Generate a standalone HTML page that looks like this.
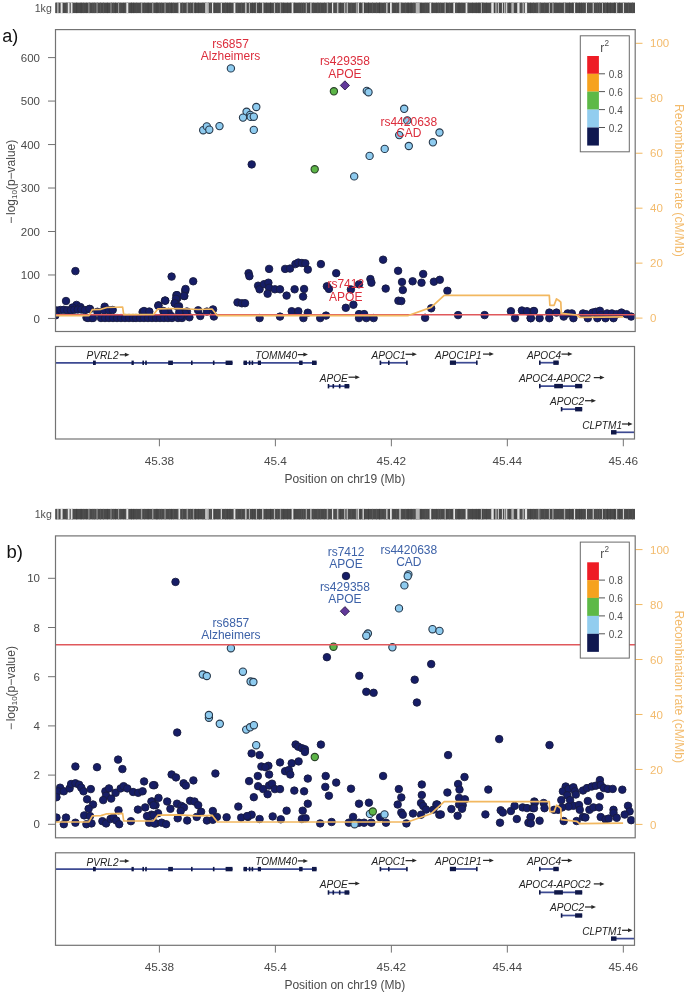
<!DOCTYPE html>
<html><head><meta charset="utf-8"><style>
html,body{margin:0;padding:0;background:#fff;}
svg{display:block;filter:blur(0.5px);}
text{font-family:"Liberation Sans", sans-serif;}
</style></head><body>
<svg width="685" height="993" viewBox="0 0 685 993" font-family='"Liberation Sans", sans-serif'>
<rect width="685" height="993" fill="#fff"/>
<rect x="55.2" y="2.6" width="579.8" height="10.5" fill="#4a4a4a"/>
<rect x="56" y="2.6" width="0.6" height="10.5" fill="#585858"/>
<rect x="58.68" y="2.6" width="0.5" height="10.5" fill="#525252"/>
<rect x="62.65" y="2.6" width="0.5" height="10.5" fill="#424242"/>
<rect x="65.9" y="2.6" width="0.8" height="10.5" fill="#585858"/>
<rect x="67.51" y="2.6" width="0.6" height="10.5" fill="#5c5c5c"/>
<rect x="69.22" y="2.6" width="0.5" height="10.5" fill="#3e3e3e"/>
<rect x="71.99" y="2.6" width="0.8" height="10.5" fill="#525252"/>
<rect x="76.33" y="2.6" width="0.8" height="10.5" fill="#3e3e3e"/>
<rect x="80.68" y="2.6" width="0.8" height="10.5" fill="#3e3e3e"/>
<rect x="83.37" y="2.6" width="0.5" height="10.5" fill="#525252"/>
<rect x="86.54" y="2.6" width="0.5" height="10.5" fill="#424242"/>
<rect x="89.3" y="2.6" width="0.8" height="10.5" fill="#525252"/>
<rect x="92.51" y="2.6" width="0.8" height="10.5" fill="#585858"/>
<rect x="94.32" y="2.6" width="0.8" height="10.5" fill="#585858"/>
<rect x="96.93" y="2.6" width="0.8" height="10.5" fill="#525252"/>
<rect x="100.13" y="2.6" width="0.8" height="10.5" fill="#585858"/>
<rect x="103.12" y="2.6" width="0.8" height="10.5" fill="#5c5c5c"/>
<rect x="106.95" y="2.6" width="0.6" height="10.5" fill="#3e3e3e"/>
<rect x="111.22" y="2.6" width="0.6" height="10.5" fill="#424242"/>
<rect x="113.46" y="2.6" width="0.5" height="10.5" fill="#585858"/>
<rect x="115.21" y="2.6" width="0.6" height="10.5" fill="#3e3e3e"/>
<rect x="118.19" y="2.6" width="0.6" height="10.5" fill="#5c5c5c"/>
<rect x="120.56" y="2.6" width="0.5" height="10.5" fill="#525252"/>
<rect x="123.59" y="2.6" width="0.5" height="10.5" fill="#424242"/>
<rect x="125.55" y="2.6" width="0.6" height="10.5" fill="#5c5c5c"/>
<rect x="127.17" y="2.6" width="0.8" height="10.5" fill="#525252"/>
<rect x="130.96" y="2.6" width="0.8" height="10.5" fill="#424242"/>
<rect x="133.48" y="2.6" width="0.6" height="10.5" fill="#3e3e3e"/>
<rect x="136.47" y="2.6" width="0.6" height="10.5" fill="#525252"/>
<rect x="140.49" y="2.6" width="0.6" height="10.5" fill="#5c5c5c"/>
<rect x="144.08" y="2.6" width="0.5" height="10.5" fill="#525252"/>
<rect x="147.78" y="2.6" width="0.6" height="10.5" fill="#3e3e3e"/>
<rect x="152.26" y="2.6" width="0.6" height="10.5" fill="#424242"/>
<rect x="155.91" y="2.6" width="0.8" height="10.5" fill="#424242"/>
<rect x="157.47" y="2.6" width="0.6" height="10.5" fill="#424242"/>
<rect x="159.48" y="2.6" width="0.5" height="10.5" fill="#5c5c5c"/>
<rect x="161.15" y="2.6" width="0.6" height="10.5" fill="#585858"/>
<rect x="164.87" y="2.6" width="0.6" height="10.5" fill="#5c5c5c"/>
<rect x="169.12" y="2.6" width="0.6" height="10.5" fill="#525252"/>
<rect x="171.12" y="2.6" width="0.6" height="10.5" fill="#3e3e3e"/>
<rect x="173.45" y="2.6" width="0.5" height="10.5" fill="#5c5c5c"/>
<rect x="177.54" y="2.6" width="0.6" height="10.5" fill="#5c5c5c"/>
<rect x="182" y="2.6" width="0.8" height="10.5" fill="#5c5c5c"/>
<rect x="186.38" y="2.6" width="0.5" height="10.5" fill="#525252"/>
<rect x="188.41" y="2.6" width="0.5" height="10.5" fill="#585858"/>
<rect x="189.94" y="2.6" width="0.8" height="10.5" fill="#585858"/>
<rect x="192.23" y="2.6" width="0.5" height="10.5" fill="#585858"/>
<rect x="194.99" y="2.6" width="0.6" height="10.5" fill="#3e3e3e"/>
<rect x="198.19" y="2.6" width="0.5" height="10.5" fill="#3e3e3e"/>
<rect x="202.54" y="2.6" width="0.8" height="10.5" fill="#525252"/>
<rect x="205.41" y="2.6" width="0.8" height="10.5" fill="#3e3e3e"/>
<rect x="208.08" y="2.6" width="0.6" height="10.5" fill="#5c5c5c"/>
<rect x="209.89" y="2.6" width="0.8" height="10.5" fill="#5c5c5c"/>
<rect x="211.58" y="2.6" width="0.5" height="10.5" fill="#585858"/>
<rect x="214.4" y="2.6" width="0.5" height="10.5" fill="#424242"/>
<rect x="217.71" y="2.6" width="0.5" height="10.5" fill="#525252"/>
<rect x="220.91" y="2.6" width="0.8" height="10.5" fill="#525252"/>
<rect x="225.25" y="2.6" width="0.8" height="10.5" fill="#525252"/>
<rect x="226.96" y="2.6" width="0.5" height="10.5" fill="#3e3e3e"/>
<rect x="229.59" y="2.6" width="0.8" height="10.5" fill="#424242"/>
<rect x="233.96" y="2.6" width="0.8" height="10.5" fill="#424242"/>
<rect x="236.88" y="2.6" width="0.5" height="10.5" fill="#5c5c5c"/>
<rect x="241.36" y="2.6" width="0.6" height="10.5" fill="#5c5c5c"/>
<rect x="244.31" y="2.6" width="0.5" height="10.5" fill="#585858"/>
<rect x="246.12" y="2.6" width="0.6" height="10.5" fill="#424242"/>
<rect x="249.05" y="2.6" width="0.8" height="10.5" fill="#585858"/>
<rect x="252.1" y="2.6" width="0.5" height="10.5" fill="#3e3e3e"/>
<rect x="254.69" y="2.6" width="0.8" height="10.5" fill="#3e3e3e"/>
<rect x="258.93" y="2.6" width="0.8" height="10.5" fill="#424242"/>
<rect x="263.37" y="2.6" width="0.5" height="10.5" fill="#424242"/>
<rect x="266.42" y="2.6" width="0.5" height="10.5" fill="#424242"/>
<rect x="270.24" y="2.6" width="0.8" height="10.5" fill="#3e3e3e"/>
<rect x="274.07" y="2.6" width="0.6" height="10.5" fill="#585858"/>
<rect x="277.41" y="2.6" width="0.5" height="10.5" fill="#585858"/>
<rect x="281.37" y="2.6" width="0.8" height="10.5" fill="#585858"/>
<rect x="283.47" y="2.6" width="0.6" height="10.5" fill="#424242"/>
<rect x="287.16" y="2.6" width="0.5" height="10.5" fill="#424242"/>
<rect x="290.08" y="2.6" width="0.5" height="10.5" fill="#3e3e3e"/>
<rect x="294.45" y="2.6" width="0.6" height="10.5" fill="#424242"/>
<rect x="298.81" y="2.6" width="0.6" height="10.5" fill="#525252"/>
<rect x="300.97" y="2.6" width="0.5" height="10.5" fill="#5c5c5c"/>
<rect x="303.06" y="2.6" width="0.5" height="10.5" fill="#5c5c5c"/>
<rect x="306.44" y="2.6" width="0.8" height="10.5" fill="#525252"/>
<rect x="309.38" y="2.6" width="0.8" height="10.5" fill="#424242"/>
<rect x="313.27" y="2.6" width="0.5" height="10.5" fill="#525252"/>
<rect x="317.5" y="2.6" width="0.8" height="10.5" fill="#585858"/>
<rect x="320.44" y="2.6" width="0.5" height="10.5" fill="#5c5c5c"/>
<rect x="324.31" y="2.6" width="0.6" height="10.5" fill="#525252"/>
<rect x="328.21" y="2.6" width="0.8" height="10.5" fill="#5c5c5c"/>
<rect x="331.1" y="2.6" width="0.8" height="10.5" fill="#525252"/>
<rect x="334.77" y="2.6" width="0.5" height="10.5" fill="#585858"/>
<rect x="336.35" y="2.6" width="0.8" height="10.5" fill="#5c5c5c"/>
<rect x="340.27" y="2.6" width="0.5" height="10.5" fill="#3e3e3e"/>
<rect x="344.25" y="2.6" width="0.6" height="10.5" fill="#424242"/>
<rect x="346.22" y="2.6" width="0.8" height="10.5" fill="#585858"/>
<rect x="347.79" y="2.6" width="0.8" height="10.5" fill="#525252"/>
<rect x="350.86" y="2.6" width="0.5" height="10.5" fill="#5c5c5c"/>
<rect x="355.32" y="2.6" width="0.5" height="10.5" fill="#585858"/>
<rect x="356.91" y="2.6" width="0.5" height="10.5" fill="#424242"/>
<rect x="359.91" y="2.6" width="0.8" height="10.5" fill="#424242"/>
<rect x="362.19" y="2.6" width="0.6" height="10.5" fill="#585858"/>
<rect x="363.87" y="2.6" width="0.8" height="10.5" fill="#424242"/>
<rect x="368.07" y="2.6" width="0.8" height="10.5" fill="#3e3e3e"/>
<rect x="372.01" y="2.6" width="0.8" height="10.5" fill="#5c5c5c"/>
<rect x="375.99" y="2.6" width="0.8" height="10.5" fill="#585858"/>
<rect x="379.09" y="2.6" width="0.8" height="10.5" fill="#3e3e3e"/>
<rect x="380.64" y="2.6" width="0.6" height="10.5" fill="#585858"/>
<rect x="383.97" y="2.6" width="0.5" height="10.5" fill="#585858"/>
<rect x="385.89" y="2.6" width="0.8" height="10.5" fill="#525252"/>
<rect x="389.06" y="2.6" width="0.6" height="10.5" fill="#3e3e3e"/>
<rect x="392.16" y="2.6" width="0.6" height="10.5" fill="#525252"/>
<rect x="396.31" y="2.6" width="0.5" height="10.5" fill="#585858"/>
<rect x="398.38" y="2.6" width="0.5" height="10.5" fill="#525252"/>
<rect x="401.4" y="2.6" width="0.8" height="10.5" fill="#525252"/>
<rect x="405.18" y="2.6" width="0.5" height="10.5" fill="#5c5c5c"/>
<rect x="407.66" y="2.6" width="0.8" height="10.5" fill="#3e3e3e"/>
<rect x="410.7" y="2.6" width="0.8" height="10.5" fill="#424242"/>
<rect x="413.55" y="2.6" width="0.8" height="10.5" fill="#5c5c5c"/>
<rect x="416.58" y="2.6" width="0.5" height="10.5" fill="#3e3e3e"/>
<rect x="420.71" y="2.6" width="0.6" height="10.5" fill="#3e3e3e"/>
<rect x="424.88" y="2.6" width="0.5" height="10.5" fill="#5c5c5c"/>
<rect x="426.8" y="2.6" width="0.5" height="10.5" fill="#5c5c5c"/>
<rect x="429.62" y="2.6" width="0.5" height="10.5" fill="#585858"/>
<rect x="432.41" y="2.6" width="0.5" height="10.5" fill="#424242"/>
<rect x="436.26" y="2.6" width="0.5" height="10.5" fill="#424242"/>
<rect x="438.19" y="2.6" width="0.5" height="10.5" fill="#5c5c5c"/>
<rect x="440.35" y="2.6" width="0.5" height="10.5" fill="#5c5c5c"/>
<rect x="444.5" y="2.6" width="0.5" height="10.5" fill="#585858"/>
<rect x="446.49" y="2.6" width="0.6" height="10.5" fill="#3e3e3e"/>
<rect x="449.2" y="2.6" width="0.6" height="10.5" fill="#585858"/>
<rect x="451.77" y="2.6" width="0.5" height="10.5" fill="#424242"/>
<rect x="453.33" y="2.6" width="0.8" height="10.5" fill="#5c5c5c"/>
<rect x="456.15" y="2.6" width="0.5" height="10.5" fill="#5c5c5c"/>
<rect x="458.64" y="2.6" width="0.8" height="10.5" fill="#424242"/>
<rect x="461.68" y="2.6" width="0.5" height="10.5" fill="#525252"/>
<rect x="466.13" y="2.6" width="0.5" height="10.5" fill="#525252"/>
<rect x="467.89" y="2.6" width="0.6" height="10.5" fill="#525252"/>
<rect x="472.1" y="2.6" width="0.5" height="10.5" fill="#424242"/>
<rect x="475.87" y="2.6" width="0.6" height="10.5" fill="#424242"/>
<rect x="478.59" y="2.6" width="0.8" height="10.5" fill="#3e3e3e"/>
<rect x="481.8" y="2.6" width="0.8" height="10.5" fill="#424242"/>
<rect x="483.57" y="2.6" width="0.5" height="10.5" fill="#585858"/>
<rect x="486.34" y="2.6" width="0.5" height="10.5" fill="#424242"/>
<rect x="490.66" y="2.6" width="0.8" height="10.5" fill="#525252"/>
<rect x="494.56" y="2.6" width="0.5" height="10.5" fill="#3e3e3e"/>
<rect x="498.63" y="2.6" width="0.5" height="10.5" fill="#424242"/>
<rect x="502.72" y="2.6" width="0.6" height="10.5" fill="#525252"/>
<rect x="505.24" y="2.6" width="0.8" height="10.5" fill="#5c5c5c"/>
<rect x="509.52" y="2.6" width="0.6" height="10.5" fill="#3e3e3e"/>
<rect x="511.41" y="2.6" width="0.8" height="10.5" fill="#585858"/>
<rect x="515.72" y="2.6" width="0.5" height="10.5" fill="#424242"/>
<rect x="517.37" y="2.6" width="0.5" height="10.5" fill="#424242"/>
<rect x="520.76" y="2.6" width="0.8" height="10.5" fill="#585858"/>
<rect x="523.13" y="2.6" width="0.8" height="10.5" fill="#585858"/>
<rect x="525.44" y="2.6" width="0.5" height="10.5" fill="#424242"/>
<rect x="527.05" y="2.6" width="0.5" height="10.5" fill="#3e3e3e"/>
<rect x="530.2" y="2.6" width="0.5" height="10.5" fill="#3e3e3e"/>
<rect x="533.13" y="2.6" width="0.6" height="10.5" fill="#525252"/>
<rect x="536.6" y="2.6" width="0.8" height="10.5" fill="#5c5c5c"/>
<rect x="540.07" y="2.6" width="0.8" height="10.5" fill="#5c5c5c"/>
<rect x="544.48" y="2.6" width="0.6" height="10.5" fill="#585858"/>
<rect x="548.93" y="2.6" width="0.6" height="10.5" fill="#585858"/>
<rect x="552.93" y="2.6" width="0.8" height="10.5" fill="#585858"/>
<rect x="555.64" y="2.6" width="0.6" height="10.5" fill="#525252"/>
<rect x="559.65" y="2.6" width="0.5" height="10.5" fill="#525252"/>
<rect x="563.03" y="2.6" width="0.6" height="10.5" fill="#5c5c5c"/>
<rect x="565.02" y="2.6" width="0.5" height="10.5" fill="#5c5c5c"/>
<rect x="569.13" y="2.6" width="0.8" height="10.5" fill="#424242"/>
<rect x="572.43" y="2.6" width="0.8" height="10.5" fill="#424242"/>
<rect x="574.06" y="2.6" width="0.5" height="10.5" fill="#585858"/>
<rect x="576.37" y="2.6" width="0.5" height="10.5" fill="#424242"/>
<rect x="578.96" y="2.6" width="0.6" height="10.5" fill="#3e3e3e"/>
<rect x="581.43" y="2.6" width="0.5" height="10.5" fill="#424242"/>
<rect x="583.59" y="2.6" width="0.5" height="10.5" fill="#525252"/>
<rect x="586.09" y="2.6" width="0.5" height="10.5" fill="#5c5c5c"/>
<rect x="588.43" y="2.6" width="0.8" height="10.5" fill="#585858"/>
<rect x="590.67" y="2.6" width="0.5" height="10.5" fill="#525252"/>
<rect x="592.97" y="2.6" width="0.5" height="10.5" fill="#585858"/>
<rect x="595.66" y="2.6" width="0.5" height="10.5" fill="#5c5c5c"/>
<rect x="597.23" y="2.6" width="0.6" height="10.5" fill="#585858"/>
<rect x="598.99" y="2.6" width="0.8" height="10.5" fill="#585858"/>
<rect x="602.46" y="2.6" width="0.8" height="10.5" fill="#3e3e3e"/>
<rect x="605.13" y="2.6" width="0.6" height="10.5" fill="#5c5c5c"/>
<rect x="607.07" y="2.6" width="0.8" height="10.5" fill="#3e3e3e"/>
<rect x="610.5" y="2.6" width="0.5" height="10.5" fill="#3e3e3e"/>
<rect x="613.89" y="2.6" width="0.8" height="10.5" fill="#3e3e3e"/>
<rect x="615.8" y="2.6" width="0.8" height="10.5" fill="#3e3e3e"/>
<rect x="619.01" y="2.6" width="0.5" height="10.5" fill="#3e3e3e"/>
<rect x="622.9" y="2.6" width="0.8" height="10.5" fill="#585858"/>
<rect x="624.66" y="2.6" width="0.5" height="10.5" fill="#585858"/>
<rect x="628.07" y="2.6" width="0.5" height="10.5" fill="#5c5c5c"/>
<rect x="632.08" y="2.6" width="0.8" height="10.5" fill="#525252"/>
<rect x="88.5" y="2.6" width="0.8" height="10.5" fill="#b4b4b4"/>
<rect x="96.6" y="2.6" width="0.8" height="10.5" fill="#b4b4b4"/>
<rect x="110.6" y="2.6" width="0.8" height="10.5" fill="#b4b4b4"/>
<rect x="118.3" y="2.6" width="0.8" height="10.5" fill="#b4b4b4"/>
<rect x="141.2" y="2.6" width="1" height="10.5" fill="#b4b4b4"/>
<rect x="152.3" y="2.6" width="1" height="10.5" fill="#b4b4b4"/>
<rect x="164.6" y="2.6" width="0.8" height="10.5" fill="#b4b4b4"/>
<rect x="186.7" y="2.6" width="1" height="10.5" fill="#b4b4b4"/>
<rect x="193.3" y="2.6" width="0.8" height="10.5" fill="#b4b4b4"/>
<rect x="205" y="2.6" width="1.8" height="10.5" fill="#b4b4b4"/>
<rect x="208.1" y="2.6" width="0.8" height="10.5" fill="#b4b4b4"/>
<rect x="248.9" y="2.6" width="1" height="10.5" fill="#b4b4b4"/>
<rect x="255.9" y="2.6" width="1" height="10.5" fill="#b4b4b4"/>
<rect x="273.9" y="2.6" width="1.2" height="10.5" fill="#b4b4b4"/>
<rect x="279.9" y="2.6" width="0.8" height="10.5" fill="#b4b4b4"/>
<rect x="305.8" y="2.6" width="1" height="10.5" fill="#b4b4b4"/>
<rect x="326.8" y="2.6" width="1" height="10.5" fill="#b4b4b4"/>
<rect x="356.3" y="2.6" width="1" height="10.5" fill="#b4b4b4"/>
<rect x="385.95" y="2.6" width="1.7" height="10.5" fill="#b4b4b4"/>
<rect x="415.7" y="2.6" width="4" height="10.5" fill="#b4b4b4"/>
<rect x="429.4" y="2.6" width="0.8" height="10.5" fill="#b4b4b4"/>
<rect x="444.7" y="2.6" width="1" height="10.5" fill="#b4b4b4"/>
<rect x="480.9" y="2.6" width="1" height="10.5" fill="#b4b4b4"/>
<rect x="511.4" y="2.6" width="2.4" height="10.5" fill="#b4b4b4"/>
<rect x="538.4" y="2.6" width="1" height="10.5" fill="#b4b4b4"/>
<rect x="548.9" y="2.6" width="1" height="10.5" fill="#b4b4b4"/>
<rect x="552.4" y="2.6" width="1" height="10.5" fill="#b4b4b4"/>
<rect x="564.1" y="2.6" width="1" height="10.5" fill="#b4b4b4"/>
<rect x="592.6" y="2.6" width="1.4" height="10.5" fill="#b4b4b4"/>
<rect x="602" y="2.6" width="1" height="10.5" fill="#b4b4b4"/>
<rect x="57.4" y="2.6" width="1" height="10.5" fill="#e4e4e4"/>
<rect x="60.6" y="2.6" width="2" height="10.5" fill="#e4e4e4"/>
<rect x="67.8" y="2.6" width="1.8" height="10.5" fill="#e4e4e4"/>
<rect x="70.75" y="2.6" width="1.7" height="10.5" fill="#e4e4e4"/>
<rect x="126.3" y="2.6" width="2" height="10.5" fill="#e4e4e4"/>
<rect x="178.45" y="2.6" width="1.7" height="10.5" fill="#e4e4e4"/>
<rect x="206.5" y="2.6" width="1.2" height="10.5" fill="#e4e4e4"/>
<rect x="212" y="2.6" width="1.2" height="10.5" fill="#e4e4e4"/>
<rect x="220.75" y="2.6" width="1.1" height="10.5" fill="#e4e4e4"/>
<rect x="233.6" y="2.6" width="1.8" height="10.5" fill="#e4e4e4"/>
<rect x="245.3" y="2.6" width="1.2" height="10.5" fill="#e4e4e4"/>
<rect x="262.2" y="2.6" width="1.2" height="10.5" fill="#e4e4e4"/>
<rect x="291.65" y="2.6" width="1.7" height="10.5" fill="#e4e4e4"/>
<rect x="310.35" y="2.6" width="1.1" height="10.5" fill="#e4e4e4"/>
<rect x="332" y="2.6" width="1.2" height="10.5" fill="#e4e4e4"/>
<rect x="337.3" y="2.6" width="1" height="10.5" fill="#e4e4e4"/>
<rect x="344.35" y="2.6" width="0.9" height="10.5" fill="#e4e4e4"/>
<rect x="346.75" y="2.6" width="0.9" height="10.5" fill="#e4e4e4"/>
<rect x="357.7" y="2.6" width="1.2" height="10.5" fill="#e4e4e4"/>
<rect x="362.6" y="2.6" width="1.2" height="10.5" fill="#e4e4e4"/>
<rect x="390" y="2.6" width="1.8" height="10.5" fill="#e4e4e4"/>
<rect x="399.4" y="2.6" width="1.2" height="10.5" fill="#e4e4e4"/>
<rect x="430" y="2.6" width="1.2" height="10.5" fill="#e4e4e4"/>
<rect x="453.35" y="2.6" width="1.7" height="10.5" fill="#e4e4e4"/>
<rect x="465.6" y="2.6" width="1.8" height="10.5" fill="#e4e4e4"/>
<rect x="491.3" y="2.6" width="2.4" height="10.5" fill="#e4e4e4"/>
<rect x="495.55" y="2.6" width="0.9" height="10.5" fill="#e4e4e4"/>
<rect x="497.85" y="2.6" width="0.9" height="10.5" fill="#e4e4e4"/>
<rect x="501.95" y="2.6" width="0.9" height="10.5" fill="#e4e4e4"/>
<rect x="504.35" y="2.6" width="0.9" height="10.5" fill="#e4e4e4"/>
<rect x="506.15" y="2.6" width="1.1" height="10.5" fill="#e4e4e4"/>
<rect x="517.25" y="2.6" width="2.3" height="10.5" fill="#e4e4e4"/>
<rect x="522.65" y="2.6" width="0.9" height="10.5" fill="#e4e4e4"/>
<rect x="524.85" y="2.6" width="2.3" height="10.5" fill="#e4e4e4"/>
<rect x="573.9" y="2.6" width="1.2" height="10.5" fill="#e4e4e4"/>
<rect x="585.9" y="2.6" width="1" height="10.5" fill="#e4e4e4"/>
<rect x="616.25" y="2.6" width="0.9" height="10.5" fill="#e4e4e4"/>
<rect x="622.9" y="2.6" width="1" height="10.5" fill="#e4e4e4"/>
<text x="51.8" y="11.9" font-size="10.6" fill="#4e4e4e" text-anchor="end">1kg</text>
<text x="2.3" y="41.6" font-size="18" fill="#111">a)</text>
<line x1="48" y1="318.45" x2="55.5" y2="318.45" stroke="#737373" stroke-width="1"/>
<text x="40" y="322.55" font-size="11.5" fill="#4a4a4a" text-anchor="end">0</text>
<line x1="48" y1="274.97" x2="55.5" y2="274.97" stroke="#737373" stroke-width="1"/>
<text x="40" y="279.07" font-size="11.5" fill="#4a4a4a" text-anchor="end">100</text>
<line x1="48" y1="231.5" x2="55.5" y2="231.5" stroke="#737373" stroke-width="1"/>
<text x="40" y="235.6" font-size="11.5" fill="#4a4a4a" text-anchor="end">200</text>
<line x1="48" y1="188.02" x2="55.5" y2="188.02" stroke="#737373" stroke-width="1"/>
<text x="40" y="192.12" font-size="11.5" fill="#4a4a4a" text-anchor="end">300</text>
<line x1="48" y1="144.55" x2="55.5" y2="144.55" stroke="#737373" stroke-width="1"/>
<text x="40" y="148.65" font-size="11.5" fill="#4a4a4a" text-anchor="end">400</text>
<line x1="48" y1="101.07" x2="55.5" y2="101.07" stroke="#737373" stroke-width="1"/>
<text x="40" y="105.17" font-size="11.5" fill="#4a4a4a" text-anchor="end">500</text>
<line x1="48" y1="57.6" x2="55.5" y2="57.6" stroke="#737373" stroke-width="1"/>
<text x="40" y="61.7" font-size="11.5" fill="#4a4a4a" text-anchor="end">600</text>
<text transform="translate(15,181.7) rotate(-90)" font-size="12" fill="#4a4a4a" text-anchor="middle">&#8722;<tspan dx="1.6">log</tspan><tspan font-size="8" dy="2">10</tspan><tspan dy="-2">(p&#8722;value)</tspan></text>
<line x1="635.5" y1="318.1" x2="642.5" y2="318.1" stroke="#f2b860" stroke-width="1"/>
<text x="650" y="322.2" font-size="11.5" fill="#f3bb6c">0</text>
<line x1="635.5" y1="263.14" x2="642.5" y2="263.14" stroke="#f2b860" stroke-width="1"/>
<text x="650" y="267.24" font-size="11.5" fill="#f3bb6c">20</text>
<line x1="635.5" y1="208.18" x2="642.5" y2="208.18" stroke="#f2b860" stroke-width="1"/>
<text x="650" y="212.28" font-size="11.5" fill="#f3bb6c">40</text>
<line x1="635.5" y1="153.22" x2="642.5" y2="153.22" stroke="#f2b860" stroke-width="1"/>
<text x="650" y="157.32" font-size="11.5" fill="#f3bb6c">60</text>
<line x1="635.5" y1="98.26" x2="642.5" y2="98.26" stroke="#f2b860" stroke-width="1"/>
<text x="650" y="102.36" font-size="11.5" fill="#f3bb6c">80</text>
<line x1="635.5" y1="43.3" x2="642.5" y2="43.3" stroke="#f2b860" stroke-width="1"/>
<text x="650" y="47.4" font-size="11.5" fill="#f3bb6c">100</text>
<text transform="translate(674.6,180.4) rotate(90)" font-size="12.1" fill="#f3bb6c" text-anchor="middle">Recombination rate (cM/Mb)</text>
<clipPath id="cp0"><rect x="56" y="30.2" width="578.6" height="300.7"/></clipPath>
<g clip-path="url(#cp0)">
<circle cx="251.7" cy="164.4" r="3.75" fill="#161d66" stroke="#181c40" stroke-width="0.9"/>
<circle cx="75.4" cy="271.1" r="3.75" fill="#161d66" stroke="#181c40" stroke-width="0.9"/>
<circle cx="66" cy="301" r="3.75" fill="#161d66" stroke="#181c40" stroke-width="0.9"/>
<circle cx="76.5" cy="304.9" r="3.75" fill="#161d66" stroke="#181c40" stroke-width="0.9"/>
<circle cx="72.5" cy="307.5" r="3.75" fill="#161d66" stroke="#181c40" stroke-width="0.9"/>
<circle cx="80.4" cy="307.1" r="3.75" fill="#161d66" stroke="#181c40" stroke-width="0.9"/>
<circle cx="56.8" cy="310.5" r="3.75" fill="#161d66" stroke="#181c40" stroke-width="0.9"/>
<circle cx="60.3" cy="310" r="3.75" fill="#161d66" stroke="#181c40" stroke-width="0.9"/>
<circle cx="63.8" cy="309.8" r="3.75" fill="#161d66" stroke="#181c40" stroke-width="0.9"/>
<circle cx="67.3" cy="310.2" r="3.75" fill="#161d66" stroke="#181c40" stroke-width="0.9"/>
<circle cx="70.8" cy="310.3" r="3.75" fill="#161d66" stroke="#181c40" stroke-width="0.9"/>
<circle cx="74.3" cy="309.8" r="3.75" fill="#161d66" stroke="#181c40" stroke-width="0.9"/>
<circle cx="77.8" cy="309.5" r="3.75" fill="#161d66" stroke="#181c40" stroke-width="0.9"/>
<circle cx="81.3" cy="309.5" r="3.75" fill="#161d66" stroke="#181c40" stroke-width="0.9"/>
<circle cx="84.8" cy="310" r="3.75" fill="#161d66" stroke="#181c40" stroke-width="0.9"/>
<circle cx="90" cy="309" r="3.75" fill="#161d66" stroke="#181c40" stroke-width="0.9"/>
<circle cx="55.4" cy="315.4" r="3.75" fill="#161d66" stroke="#181c40" stroke-width="0.9"/>
<circle cx="86.5" cy="317.6" r="3.75" fill="#161d66" stroke="#181c40" stroke-width="0.9"/>
<circle cx="91.8" cy="318" r="3.75" fill="#161d66" stroke="#181c40" stroke-width="0.9"/>
<circle cx="89.4" cy="308.9" r="3.75" fill="#161d66" stroke="#181c40" stroke-width="0.9"/>
<circle cx="97.4" cy="311.8" r="3.75" fill="#161d66" stroke="#181c40" stroke-width="0.9"/>
<circle cx="104.7" cy="306.7" r="3.75" fill="#161d66" stroke="#181c40" stroke-width="0.9"/>
<circle cx="104" cy="310.3" r="3.75" fill="#161d66" stroke="#181c40" stroke-width="0.9"/>
<circle cx="109.1" cy="310.3" r="3.75" fill="#161d66" stroke="#181c40" stroke-width="0.9"/>
<circle cx="112.7" cy="310" r="3.75" fill="#161d66" stroke="#181c40" stroke-width="0.9"/>
<circle cx="88" cy="318" r="3.75" fill="#161d66" stroke="#181c40" stroke-width="0.9"/>
<circle cx="93" cy="318" r="3.75" fill="#161d66" stroke="#181c40" stroke-width="0.9"/>
<circle cx="101" cy="318" r="3.75" fill="#161d66" stroke="#181c40" stroke-width="0.9"/>
<circle cx="105" cy="318" r="3.75" fill="#161d66" stroke="#181c40" stroke-width="0.9"/>
<circle cx="109" cy="318" r="3.75" fill="#161d66" stroke="#181c40" stroke-width="0.9"/>
<circle cx="113" cy="318" r="3.75" fill="#161d66" stroke="#181c40" stroke-width="0.9"/>
<circle cx="117" cy="318" r="3.75" fill="#161d66" stroke="#181c40" stroke-width="0.9"/>
<circle cx="121" cy="318" r="3.75" fill="#161d66" stroke="#181c40" stroke-width="0.9"/>
<circle cx="125" cy="318" r="3.75" fill="#161d66" stroke="#181c40" stroke-width="0.9"/>
<circle cx="129" cy="318" r="3.75" fill="#161d66" stroke="#181c40" stroke-width="0.9"/>
<circle cx="133" cy="318" r="3.75" fill="#161d66" stroke="#181c40" stroke-width="0.9"/>
<circle cx="142.6" cy="312" r="3.75" fill="#161d66" stroke="#181c40" stroke-width="0.9"/>
<circle cx="144" cy="311" r="3.75" fill="#161d66" stroke="#181c40" stroke-width="0.9"/>
<circle cx="149.3" cy="311.5" r="3.75" fill="#161d66" stroke="#181c40" stroke-width="0.9"/>
<circle cx="165" cy="300.5" r="3.75" fill="#161d66" stroke="#181c40" stroke-width="0.9"/>
<circle cx="158.5" cy="305.3" r="3.75" fill="#161d66" stroke="#181c40" stroke-width="0.9"/>
<circle cx="176.4" cy="295.3" r="3.75" fill="#161d66" stroke="#181c40" stroke-width="0.9"/>
<circle cx="177.3" cy="298.3" r="3.75" fill="#161d66" stroke="#181c40" stroke-width="0.9"/>
<circle cx="184.3" cy="296.1" r="3.75" fill="#161d66" stroke="#181c40" stroke-width="0.9"/>
<circle cx="185.2" cy="290.9" r="3.75" fill="#161d66" stroke="#181c40" stroke-width="0.9"/>
<circle cx="174.7" cy="303.1" r="3.75" fill="#161d66" stroke="#181c40" stroke-width="0.9"/>
<circle cx="179" cy="306.2" r="3.75" fill="#161d66" stroke="#181c40" stroke-width="0.9"/>
<circle cx="163.3" cy="311" r="3.75" fill="#161d66" stroke="#181c40" stroke-width="0.9"/>
<circle cx="168.5" cy="311.9" r="3.75" fill="#161d66" stroke="#181c40" stroke-width="0.9"/>
<circle cx="182.5" cy="311.9" r="3.75" fill="#161d66" stroke="#181c40" stroke-width="0.9"/>
<circle cx="186.9" cy="311.5" r="3.75" fill="#161d66" stroke="#181c40" stroke-width="0.9"/>
<circle cx="136" cy="318" r="3.75" fill="#161d66" stroke="#181c40" stroke-width="0.9"/>
<circle cx="140" cy="318" r="3.75" fill="#161d66" stroke="#181c40" stroke-width="0.9"/>
<circle cx="144" cy="318" r="3.75" fill="#161d66" stroke="#181c40" stroke-width="0.9"/>
<circle cx="148" cy="318" r="3.75" fill="#161d66" stroke="#181c40" stroke-width="0.9"/>
<circle cx="152" cy="318" r="3.75" fill="#161d66" stroke="#181c40" stroke-width="0.9"/>
<circle cx="156" cy="318" r="3.75" fill="#161d66" stroke="#181c40" stroke-width="0.9"/>
<circle cx="160" cy="318" r="3.75" fill="#161d66" stroke="#181c40" stroke-width="0.9"/>
<circle cx="164" cy="318" r="3.75" fill="#161d66" stroke="#181c40" stroke-width="0.9"/>
<circle cx="168" cy="318" r="3.75" fill="#161d66" stroke="#181c40" stroke-width="0.9"/>
<circle cx="172" cy="318" r="3.75" fill="#161d66" stroke="#181c40" stroke-width="0.9"/>
<circle cx="178" cy="318" r="3.75" fill="#161d66" stroke="#181c40" stroke-width="0.9"/>
<circle cx="182" cy="318" r="3.75" fill="#161d66" stroke="#181c40" stroke-width="0.9"/>
<circle cx="171.6" cy="276.6" r="3.75" fill="#161d66" stroke="#181c40" stroke-width="0.9"/>
<circle cx="193.2" cy="281.3" r="3.75" fill="#161d66" stroke="#181c40" stroke-width="0.9"/>
<circle cx="185.5" cy="289" r="3.75" fill="#161d66" stroke="#181c40" stroke-width="0.9"/>
<circle cx="177" cy="295.1" r="3.75" fill="#161d66" stroke="#181c40" stroke-width="0.9"/>
<circle cx="184" cy="295.9" r="3.75" fill="#161d66" stroke="#181c40" stroke-width="0.9"/>
<circle cx="176" cy="298.8" r="3.75" fill="#161d66" stroke="#181c40" stroke-width="0.9"/>
<circle cx="165.3" cy="300.7" r="3.75" fill="#161d66" stroke="#181c40" stroke-width="0.9"/>
<circle cx="174.8" cy="303.2" r="3.75" fill="#161d66" stroke="#181c40" stroke-width="0.9"/>
<circle cx="158.3" cy="305.8" r="3.75" fill="#161d66" stroke="#181c40" stroke-width="0.9"/>
<circle cx="177.7" cy="306.8" r="3.75" fill="#161d66" stroke="#181c40" stroke-width="0.9"/>
<circle cx="248.6" cy="273.2" r="3.75" fill="#161d66" stroke="#181c40" stroke-width="0.9"/>
<circle cx="249.4" cy="276.2" r="3.75" fill="#161d66" stroke="#181c40" stroke-width="0.9"/>
<circle cx="237.5" cy="302.4" r="3.75" fill="#161d66" stroke="#181c40" stroke-width="0.9"/>
<circle cx="241.9" cy="303.3" r="3.75" fill="#161d66" stroke="#181c40" stroke-width="0.9"/>
<circle cx="198.1" cy="310.3" r="3.75" fill="#161d66" stroke="#181c40" stroke-width="0.9"/>
<circle cx="200.3" cy="316" r="3.75" fill="#161d66" stroke="#181c40" stroke-width="0.9"/>
<circle cx="206.9" cy="311.6" r="3.75" fill="#161d66" stroke="#181c40" stroke-width="0.9"/>
<circle cx="213" cy="309.4" r="3.75" fill="#161d66" stroke="#181c40" stroke-width="0.9"/>
<circle cx="213.9" cy="316.5" r="3.75" fill="#161d66" stroke="#181c40" stroke-width="0.9"/>
<circle cx="189.4" cy="317.3" r="3.75" fill="#161d66" stroke="#181c40" stroke-width="0.9"/>
<circle cx="185" cy="313.4" r="3.75" fill="#161d66" stroke="#181c40" stroke-width="0.9"/>
<circle cx="171.2" cy="316" r="3.75" fill="#161d66" stroke="#181c40" stroke-width="0.9"/>
<circle cx="180.7" cy="316" r="3.75" fill="#161d66" stroke="#181c40" stroke-width="0.9"/>
<circle cx="179.2" cy="312.7" r="3.75" fill="#161d66" stroke="#181c40" stroke-width="0.9"/>
<circle cx="164.6" cy="312" r="3.75" fill="#161d66" stroke="#181c40" stroke-width="0.9"/>
<circle cx="269.1" cy="268.9" r="3.75" fill="#161d66" stroke="#181c40" stroke-width="0.9"/>
<circle cx="285.1" cy="268.9" r="3.75" fill="#161d66" stroke="#181c40" stroke-width="0.9"/>
<circle cx="290" cy="268.6" r="3.75" fill="#161d66" stroke="#181c40" stroke-width="0.9"/>
<circle cx="295.4" cy="264.1" r="3.75" fill="#161d66" stroke="#181c40" stroke-width="0.9"/>
<circle cx="298.3" cy="262.6" r="3.75" fill="#161d66" stroke="#181c40" stroke-width="0.9"/>
<circle cx="301.9" cy="263" r="3.75" fill="#161d66" stroke="#181c40" stroke-width="0.9"/>
<circle cx="305.3" cy="263.3" r="3.75" fill="#161d66" stroke="#181c40" stroke-width="0.9"/>
<circle cx="307.8" cy="269.6" r="3.75" fill="#161d66" stroke="#181c40" stroke-width="0.9"/>
<circle cx="320.9" cy="264.1" r="3.75" fill="#161d66" stroke="#181c40" stroke-width="0.9"/>
<circle cx="336.2" cy="273.2" r="3.75" fill="#161d66" stroke="#181c40" stroke-width="0.9"/>
<circle cx="258.1" cy="285.7" r="3.75" fill="#161d66" stroke="#181c40" stroke-width="0.9"/>
<circle cx="259.6" cy="289.3" r="3.75" fill="#161d66" stroke="#181c40" stroke-width="0.9"/>
<circle cx="264" cy="284.2" r="3.75" fill="#161d66" stroke="#181c40" stroke-width="0.9"/>
<circle cx="268.4" cy="282.7" r="3.75" fill="#161d66" stroke="#181c40" stroke-width="0.9"/>
<circle cx="269.1" cy="287.8" r="3.75" fill="#161d66" stroke="#181c40" stroke-width="0.9"/>
<circle cx="267.6" cy="293.7" r="3.75" fill="#161d66" stroke="#181c40" stroke-width="0.9"/>
<circle cx="274.9" cy="289.3" r="3.75" fill="#161d66" stroke="#181c40" stroke-width="0.9"/>
<circle cx="280" cy="289.3" r="3.75" fill="#161d66" stroke="#181c40" stroke-width="0.9"/>
<circle cx="286.6" cy="295.6" r="3.75" fill="#161d66" stroke="#181c40" stroke-width="0.9"/>
<circle cx="294.6" cy="289.3" r="3.75" fill="#161d66" stroke="#181c40" stroke-width="0.9"/>
<circle cx="304.1" cy="289" r="3.75" fill="#161d66" stroke="#181c40" stroke-width="0.9"/>
<circle cx="303.1" cy="296.6" r="3.75" fill="#161d66" stroke="#181c40" stroke-width="0.9"/>
<circle cx="326.9" cy="286.3" r="3.75" fill="#161d66" stroke="#181c40" stroke-width="0.9"/>
<circle cx="328.9" cy="288.9" r="3.75" fill="#161d66" stroke="#181c40" stroke-width="0.9"/>
<circle cx="245" cy="303.2" r="3.75" fill="#161d66" stroke="#181c40" stroke-width="0.9"/>
<circle cx="291.7" cy="311.2" r="3.75" fill="#161d66" stroke="#181c40" stroke-width="0.9"/>
<circle cx="298.3" cy="311.2" r="3.75" fill="#161d66" stroke="#181c40" stroke-width="0.9"/>
<circle cx="307.8" cy="312.7" r="3.75" fill="#161d66" stroke="#181c40" stroke-width="0.9"/>
<circle cx="259.6" cy="318.1" r="3.75" fill="#161d66" stroke="#181c40" stroke-width="0.9"/>
<circle cx="280" cy="316.6" r="3.75" fill="#161d66" stroke="#181c40" stroke-width="0.9"/>
<circle cx="303.4" cy="318.1" r="3.75" fill="#161d66" stroke="#181c40" stroke-width="0.9"/>
<circle cx="320.2" cy="318.1" r="3.75" fill="#161d66" stroke="#181c40" stroke-width="0.9"/>
<circle cx="326" cy="315.6" r="3.75" fill="#161d66" stroke="#181c40" stroke-width="0.9"/>
<circle cx="383.1" cy="259.7" r="3.75" fill="#161d66" stroke="#181c40" stroke-width="0.9"/>
<circle cx="398.1" cy="270.8" r="3.75" fill="#161d66" stroke="#181c40" stroke-width="0.9"/>
<circle cx="423.2" cy="274" r="3.75" fill="#161d66" stroke="#181c40" stroke-width="0.9"/>
<circle cx="370.4" cy="279.1" r="3.75" fill="#161d66" stroke="#181c40" stroke-width="0.9"/>
<circle cx="371.4" cy="282.7" r="3.75" fill="#161d66" stroke="#181c40" stroke-width="0.9"/>
<circle cx="359" cy="284.3" r="3.75" fill="#161d66" stroke="#181c40" stroke-width="0.9"/>
<circle cx="402" cy="282" r="3.75" fill="#161d66" stroke="#181c40" stroke-width="0.9"/>
<circle cx="412.6" cy="281.3" r="3.75" fill="#161d66" stroke="#181c40" stroke-width="0.9"/>
<circle cx="421.5" cy="282.7" r="3.75" fill="#161d66" stroke="#181c40" stroke-width="0.9"/>
<circle cx="433.9" cy="281.7" r="3.75" fill="#161d66" stroke="#181c40" stroke-width="0.9"/>
<circle cx="439.8" cy="279.8" r="3.75" fill="#161d66" stroke="#181c40" stroke-width="0.9"/>
<circle cx="350.9" cy="289.4" r="3.75" fill="#161d66" stroke="#181c40" stroke-width="0.9"/>
<circle cx="385.7" cy="288.6" r="3.75" fill="#161d66" stroke="#181c40" stroke-width="0.9"/>
<circle cx="402.8" cy="290" r="3.75" fill="#161d66" stroke="#181c40" stroke-width="0.9"/>
<circle cx="398.4" cy="300.7" r="3.75" fill="#161d66" stroke="#181c40" stroke-width="0.9"/>
<circle cx="401.3" cy="301" r="3.75" fill="#161d66" stroke="#181c40" stroke-width="0.9"/>
<circle cx="353.4" cy="304.7" r="3.75" fill="#161d66" stroke="#181c40" stroke-width="0.9"/>
<circle cx="345.8" cy="307.8" r="3.75" fill="#161d66" stroke="#181c40" stroke-width="0.9"/>
<circle cx="431.2" cy="308.3" r="3.75" fill="#161d66" stroke="#181c40" stroke-width="0.9"/>
<circle cx="359" cy="314.1" r="3.75" fill="#161d66" stroke="#181c40" stroke-width="0.9"/>
<circle cx="364.1" cy="314.1" r="3.75" fill="#161d66" stroke="#181c40" stroke-width="0.9"/>
<circle cx="359" cy="318.1" r="3.75" fill="#161d66" stroke="#181c40" stroke-width="0.9"/>
<circle cx="366.3" cy="318.1" r="3.75" fill="#161d66" stroke="#181c40" stroke-width="0.9"/>
<circle cx="373.6" cy="318.1" r="3.75" fill="#161d66" stroke="#181c40" stroke-width="0.9"/>
<circle cx="425.1" cy="317.8" r="3.75" fill="#161d66" stroke="#181c40" stroke-width="0.9"/>
<circle cx="447.4" cy="290.8" r="3.75" fill="#161d66" stroke="#181c40" stroke-width="0.9"/>
<circle cx="458.1" cy="315.1" r="3.75" fill="#161d66" stroke="#181c40" stroke-width="0.9"/>
<circle cx="484.6" cy="315.1" r="3.75" fill="#161d66" stroke="#181c40" stroke-width="0.9"/>
<circle cx="510.9" cy="311.2" r="3.75" fill="#161d66" stroke="#181c40" stroke-width="0.9"/>
<circle cx="515" cy="318.1" r="3.75" fill="#161d66" stroke="#181c40" stroke-width="0.9"/>
<circle cx="521.9" cy="310.5" r="3.75" fill="#161d66" stroke="#181c40" stroke-width="0.9"/>
<circle cx="527" cy="311.2" r="3.75" fill="#161d66" stroke="#181c40" stroke-width="0.9"/>
<circle cx="530.6" cy="318.1" r="3.75" fill="#161d66" stroke="#181c40" stroke-width="0.9"/>
<circle cx="533.5" cy="311.2" r="3.75" fill="#161d66" stroke="#181c40" stroke-width="0.9"/>
<circle cx="534" cy="311" r="3.75" fill="#161d66" stroke="#181c40" stroke-width="0.9"/>
<circle cx="530.8" cy="318.2" r="3.75" fill="#161d66" stroke="#181c40" stroke-width="0.9"/>
<circle cx="539.6" cy="318.2" r="3.75" fill="#161d66" stroke="#181c40" stroke-width="0.9"/>
<circle cx="549.3" cy="312.6" r="3.75" fill="#161d66" stroke="#181c40" stroke-width="0.9"/>
<circle cx="549.3" cy="318.2" r="3.75" fill="#161d66" stroke="#181c40" stroke-width="0.9"/>
<circle cx="556.5" cy="312.6" r="3.75" fill="#161d66" stroke="#181c40" stroke-width="0.9"/>
<circle cx="563.7" cy="316.6" r="3.75" fill="#161d66" stroke="#181c40" stroke-width="0.9"/>
<circle cx="567.7" cy="313.4" r="3.75" fill="#161d66" stroke="#181c40" stroke-width="0.9"/>
<circle cx="571.8" cy="313.4" r="3.75" fill="#161d66" stroke="#181c40" stroke-width="0.9"/>
<circle cx="573.4" cy="318.2" r="3.75" fill="#161d66" stroke="#181c40" stroke-width="0.9"/>
<circle cx="583" cy="313.4" r="3.75" fill="#161d66" stroke="#181c40" stroke-width="0.9"/>
<circle cx="586.2" cy="314.2" r="3.75" fill="#161d66" stroke="#181c40" stroke-width="0.9"/>
<circle cx="587.8" cy="318.2" r="3.75" fill="#161d66" stroke="#181c40" stroke-width="0.9"/>
<circle cx="592.6" cy="312.6" r="3.75" fill="#161d66" stroke="#181c40" stroke-width="0.9"/>
<circle cx="595.8" cy="311.8" r="3.75" fill="#161d66" stroke="#181c40" stroke-width="0.9"/>
<circle cx="599.9" cy="310.8" r="3.75" fill="#161d66" stroke="#181c40" stroke-width="0.9"/>
<circle cx="600.7" cy="315" r="3.75" fill="#161d66" stroke="#181c40" stroke-width="0.9"/>
<circle cx="605.5" cy="318.2" r="3.75" fill="#161d66" stroke="#181c40" stroke-width="0.9"/>
<circle cx="607.1" cy="313.4" r="3.75" fill="#161d66" stroke="#181c40" stroke-width="0.9"/>
<circle cx="611.9" cy="313.4" r="3.75" fill="#161d66" stroke="#181c40" stroke-width="0.9"/>
<circle cx="616.7" cy="314.2" r="3.75" fill="#161d66" stroke="#181c40" stroke-width="0.9"/>
<circle cx="621.5" cy="312.6" r="3.75" fill="#161d66" stroke="#181c40" stroke-width="0.9"/>
<circle cx="626.4" cy="314.2" r="3.75" fill="#161d66" stroke="#181c40" stroke-width="0.9"/>
<circle cx="631.2" cy="316.6" r="3.75" fill="#161d66" stroke="#181c40" stroke-width="0.9"/>
<circle cx="597.4" cy="318.2" r="3.75" fill="#161d66" stroke="#181c40" stroke-width="0.9"/>
<circle cx="613.5" cy="318.2" r="3.75" fill="#161d66" stroke="#181c40" stroke-width="0.9"/>
<circle cx="230.9" cy="68.4" r="3.65" fill="#8ecbef" stroke="#27384a" stroke-width="1.1"/>
<circle cx="256.3" cy="107" r="3.65" fill="#8ecbef" stroke="#27384a" stroke-width="1.1"/>
<circle cx="246.6" cy="111.8" r="3.65" fill="#8ecbef" stroke="#27384a" stroke-width="1.1"/>
<circle cx="243" cy="117.6" r="3.65" fill="#8ecbef" stroke="#27384a" stroke-width="1.1"/>
<circle cx="250.2" cy="114.9" r="3.65" fill="#8ecbef" stroke="#27384a" stroke-width="1.1"/>
<circle cx="250.7" cy="116.9" r="3.65" fill="#8ecbef" stroke="#27384a" stroke-width="1.1"/>
<circle cx="253.8" cy="116.7" r="3.65" fill="#8ecbef" stroke="#27384a" stroke-width="1.1"/>
<circle cx="253.8" cy="129.9" r="3.65" fill="#8ecbef" stroke="#27384a" stroke-width="1.1"/>
<circle cx="219.5" cy="126.1" r="3.65" fill="#8ecbef" stroke="#27384a" stroke-width="1.1"/>
<circle cx="203.2" cy="130.2" r="3.65" fill="#8ecbef" stroke="#27384a" stroke-width="1.1"/>
<circle cx="206.8" cy="126.4" r="3.65" fill="#8ecbef" stroke="#27384a" stroke-width="1.1"/>
<circle cx="209.3" cy="129.7" r="3.65" fill="#8ecbef" stroke="#27384a" stroke-width="1.1"/>
<circle cx="366.8" cy="90.9" r="3.65" fill="#8ecbef" stroke="#27384a" stroke-width="1.1"/>
<circle cx="368.5" cy="92.2" r="3.65" fill="#8ecbef" stroke="#27384a" stroke-width="1.1"/>
<circle cx="404.2" cy="108.8" r="3.65" fill="#8ecbef" stroke="#27384a" stroke-width="1.1"/>
<circle cx="407.3" cy="120.4" r="3.65" fill="#8ecbef" stroke="#27384a" stroke-width="1.1"/>
<circle cx="399.2" cy="135.1" r="3.65" fill="#8ecbef" stroke="#27384a" stroke-width="1.1"/>
<circle cx="439.5" cy="132.5" r="3.65" fill="#8ecbef" stroke="#27384a" stroke-width="1.1"/>
<circle cx="432.9" cy="142.3" r="3.65" fill="#8ecbef" stroke="#27384a" stroke-width="1.1"/>
<circle cx="408.8" cy="146" r="3.65" fill="#8ecbef" stroke="#27384a" stroke-width="1.1"/>
<circle cx="384.7" cy="148.9" r="3.65" fill="#8ecbef" stroke="#27384a" stroke-width="1.1"/>
<circle cx="369.6" cy="155.9" r="3.65" fill="#8ecbef" stroke="#27384a" stroke-width="1.1"/>
<circle cx="354.2" cy="176.4" r="3.65" fill="#8ecbef" stroke="#27384a" stroke-width="1.1"/>
<circle cx="314.7" cy="169.3" r="3.65" fill="#5cb547" stroke="#2a4228" stroke-width="1.1"/>
<circle cx="333.9" cy="91.3" r="3.65" fill="#5cb547" stroke="#2a4228" stroke-width="1.1"/>
<path d="M344.9,80.8 L349.5,85.4 L344.9,90 L340.3,85.4 Z" fill="#62399a" stroke="#2c1c48" stroke-width="0.9"/>
</g>
<line x1="55.5" y1="314.8" x2="635.2" y2="314.8" stroke="#e0585c" stroke-width="1.5"/>
<polyline points="55.5,315.7 89,315.6 92.3,309.6 101,309.3 106.9,307.5 122.6,307 123.7,314.7 153.6,314.5 158,308.8 177.7,308.5 198.2,309.5 212.1,309 217.4,315.7 407.7,315.7 431.1,307.4 444.2,295.4 549.3,295.4 549.9,305.4 554.1,305.3 556.5,298.9 558.9,300.5 560.8,302.1 561.3,313.4 576.6,315 579.8,317.4 623.1,316.9" fill="none" stroke="#f2b860" stroke-width="1.7" stroke-linejoin="round"/>
<text x="230.5" y="47.8" font-size="12" fill="#dc2d3c" text-anchor="middle">rs6857</text>
<text x="230.5" y="59.5" font-size="12" fill="#dc2d3c" text-anchor="middle">Alzheimers</text>
<text x="344.9" y="65" font-size="12" fill="#dc2d3c" text-anchor="middle">rs429358</text>
<text x="344.9" y="77.5" font-size="12" fill="#dc2d3c" text-anchor="middle">APOE</text>
<text x="408.8" y="125.7" font-size="12" fill="#dc2d3c" text-anchor="middle">rs4420638</text>
<text x="408.8" y="137.3" font-size="12" fill="#dc2d3c" text-anchor="middle">CAD</text>
<text x="345.8" y="288" font-size="12" fill="#dc2d3c" text-anchor="middle">rs7412</text>
<text x="345.8" y="300.5" font-size="12" fill="#dc2d3c" text-anchor="middle">APOE</text>
<rect x="580.3" y="35.8" width="49" height="116" fill="#fff" stroke="#6a6a6a" stroke-width="1"/>
<rect x="587.2" y="56" width="11.7" height="17.85" fill="#ee1c25"/>
<rect x="587.2" y="73.8" width="11.7" height="17.85" fill="#f6a21e"/>
<rect x="587.2" y="91.6" width="11.7" height="18.05" fill="#5db947"/>
<rect x="587.2" y="109.6" width="11.7" height="17.95" fill="#92cdef"/>
<rect x="587.2" y="127.5" width="11.7" height="18.05" fill="#0f1850"/>
<line x1="598.9" y1="73.8" x2="605" y2="73.8" stroke="#555" stroke-width="1"/>
<text x="608.8" y="78" font-size="10" fill="#505050">0.8</text>
<line x1="598.9" y1="91.6" x2="605" y2="91.6" stroke="#555" stroke-width="1"/>
<text x="608.8" y="95.8" font-size="10" fill="#505050">0.6</text>
<line x1="598.9" y1="109.6" x2="605" y2="109.6" stroke="#555" stroke-width="1"/>
<text x="608.8" y="113.8" font-size="10" fill="#505050">0.4</text>
<line x1="598.9" y1="127.5" x2="605" y2="127.5" stroke="#555" stroke-width="1"/>
<text x="608.8" y="131.7" font-size="10" fill="#505050">0.2</text>
<text x="600.3" y="51.8" font-size="12" fill="#505050">r</text>
<text x="604.5" y="45.7" font-size="8.2" fill="#505050">2</text>
<rect x="55.5" y="29.6" width="579.7" height="301.9" fill="none" stroke="#737373" stroke-width="1.2"/>
<line x1="55.5" y1="362.8" x2="232.6" y2="362.8" stroke="#3d4a92" stroke-width="1.7"/>
<rect x="93" y="360.6" width="2.8" height="4.4" fill="#101848"/>
<rect x="131.5" y="360.6" width="2.3" height="4.4" fill="#101848"/>
<rect x="142.4" y="360.6" width="1.6" height="4.4" fill="#101848"/>
<rect x="145.2" y="360.6" width="1.6" height="4.4" fill="#101848"/>
<rect x="168.2" y="360.6" width="4.7" height="4.4" fill="#101848"/>
<rect x="191" y="360.6" width="1.6" height="4.4" fill="#101848"/>
<rect x="212.9" y="360.6" width="1.6" height="4.4" fill="#101848"/>
<rect x="225.6" y="360.6" width="6.9" height="4.4" fill="#101848"/>
<text x="86.6" y="359.4" font-size="10.1" font-style="italic" fill="#222">PVRL2</text>
<line x1="119.8" y1="354.8" x2="127" y2="354.8" stroke="#2a2a2a" stroke-width="1.25"/>
<path d="M129.5,354.8 L124.9,352.8 L124.9,356.8 Z" fill="#2a2a2a"/>
<line x1="243.5" y1="362.8" x2="316.6" y2="362.8" stroke="#3d4a92" stroke-width="1.7"/>
<rect x="243.5" y="360.6" width="3.5" height="4.4" fill="#101848"/>
<rect x="248.8" y="360.6" width="1.6" height="4.4" fill="#101848"/>
<rect x="251.6" y="360.6" width="1.6" height="4.4" fill="#101848"/>
<rect x="257.8" y="360.6" width="3.2" height="4.4" fill="#101848"/>
<rect x="299.1" y="360.6" width="3.5" height="4.4" fill="#101848"/>
<rect x="312" y="360.6" width="4.6" height="4.4" fill="#101848"/>
<text x="255.2" y="359" font-size="10.1" font-style="italic" fill="#222">TOMM40</text>
<line x1="297.8" y1="354.6" x2="305.5" y2="354.6" stroke="#2a2a2a" stroke-width="1.25"/>
<path d="M308,354.6 L303.4,352.6 L303.4,356.6 Z" fill="#2a2a2a"/>
<line x1="328.1" y1="386.2" x2="349.4" y2="386.2" stroke="#3d4a92" stroke-width="1.7"/>
<rect x="327.7" y="384" width="1.6" height="4.4" fill="#101848"/>
<rect x="332.5" y="384" width="1.6" height="4.4" fill="#101848"/>
<rect x="338.9" y="384" width="1.6" height="4.4" fill="#101848"/>
<rect x="344.5" y="384" width="4.8" height="4.4" fill="#101848"/>
<text x="319.7" y="381.7" font-size="10.1" font-style="italic" fill="#222">APOE</text>
<line x1="348.5" y1="377.2" x2="357.4" y2="377.2" stroke="#2a2a2a" stroke-width="1.25"/>
<path d="M359.9,377.2 L355.3,375.2 L355.3,379.2 Z" fill="#2a2a2a"/>
<line x1="380.1" y1="362.8" x2="407.2" y2="362.8" stroke="#3d4a92" stroke-width="1.7"/>
<rect x="379.6" y="360.6" width="1.6" height="4.4" fill="#101848"/>
<rect x="388" y="360.6" width="1.6" height="4.4" fill="#101848"/>
<rect x="406.1" y="360.6" width="1.6" height="4.4" fill="#101848"/>
<text x="371.5" y="358.8" font-size="10.1" font-style="italic" fill="#222">APOC1</text>
<line x1="405.5" y1="354.3" x2="414.4" y2="354.3" stroke="#2a2a2a" stroke-width="1.25"/>
<path d="M416.9,354.3 L412.3,352.3 L412.3,356.3 Z" fill="#2a2a2a"/>
<line x1="449.9" y1="362.7" x2="477.2" y2="362.7" stroke="#3d4a92" stroke-width="1.7"/>
<rect x="449.9" y="360.5" width="6.1" height="4.4" fill="#101848"/>
<rect x="476" y="360.5" width="1.6" height="4.4" fill="#101848"/>
<text x="435.1" y="358.5" font-size="10.1" font-style="italic" fill="#222">APOC1P1</text>
<line x1="483" y1="354.1" x2="491.4" y2="354.1" stroke="#2a2a2a" stroke-width="1.25"/>
<path d="M493.9,354.1 L489.3,352.1 L489.3,356.1 Z" fill="#2a2a2a"/>
<line x1="539.5" y1="362.7" x2="558.7" y2="362.7" stroke="#3d4a92" stroke-width="1.7"/>
<rect x="539" y="360.5" width="1.6" height="4.4" fill="#101848"/>
<rect x="553.3" y="360.5" width="5.4" height="4.4" fill="#101848"/>
<text x="526.9" y="358.5" font-size="10.1" font-style="italic" fill="#222">APOC4</text>
<line x1="561.5" y1="354.1" x2="570" y2="354.1" stroke="#2a2a2a" stroke-width="1.25"/>
<path d="M572.5,354.1 L567.9,352.1 L567.9,356.1 Z" fill="#2a2a2a"/>
<line x1="539.5" y1="386.1" x2="582.2" y2="386.1" stroke="#3d4a92" stroke-width="1.7"/>
<rect x="539" y="383.9" width="1.6" height="4.4" fill="#101848"/>
<rect x="554.2" y="383.9" width="8.7" height="4.4" fill="#101848"/>
<rect x="575.1" y="383.9" width="7.1" height="4.4" fill="#101848"/>
<text x="518.9" y="382" font-size="10.1" font-style="italic" fill="#222">APOC4-APOC2</text>
<line x1="593.8" y1="377.6" x2="602" y2="377.6" stroke="#2a2a2a" stroke-width="1.25"/>
<path d="M604.5,377.6 L599.9,375.6 L599.9,379.6 Z" fill="#2a2a2a"/>
<line x1="561.3" y1="409.2" x2="582.2" y2="409.2" stroke="#3d4a92" stroke-width="1.7"/>
<rect x="560.8" y="407" width="1.6" height="4.4" fill="#101848"/>
<rect x="575.1" y="407" width="7.1" height="4.4" fill="#101848"/>
<text x="550" y="405.1" font-size="10.1" font-style="italic" fill="#222">APOC2</text>
<line x1="585" y1="400.7" x2="593.5" y2="400.7" stroke="#2a2a2a" stroke-width="1.25"/>
<path d="M596,400.7 L591.4,398.7 L591.4,402.7 Z" fill="#2a2a2a"/>
<line x1="611" y1="432.3" x2="634.5" y2="432.3" stroke="#3d4a92" stroke-width="1.7"/>
<rect x="611" y="430.1" width="5.5" height="4.4" fill="#101848"/>
<text x="582.2" y="428.5" font-size="10.1" font-style="italic" fill="#222">CLPTM1</text>
<line x1="622" y1="424" x2="630.1" y2="424" stroke="#2a2a2a" stroke-width="1.25"/>
<path d="M632.6,424 L628,422 L628,426 Z" fill="#2a2a2a"/>
<rect x="55.5" y="346.5" width="579" height="92.5" fill="none" stroke="#737373" stroke-width="1.2"/>
<line x1="159.4" y1="439" x2="159.4" y2="446.3" stroke="#737373" stroke-width="1"/>
<text x="159.4" y="464.7" font-size="11.8" fill="#4a4a4a" text-anchor="middle">45.38</text>
<line x1="275.38" y1="439" x2="275.38" y2="446.3" stroke="#737373" stroke-width="1"/>
<text x="275.38" y="464.7" font-size="11.8" fill="#4a4a4a" text-anchor="middle">45.4</text>
<line x1="391.36" y1="439" x2="391.36" y2="446.3" stroke="#737373" stroke-width="1"/>
<text x="391.36" y="464.7" font-size="11.8" fill="#4a4a4a" text-anchor="middle">45.42</text>
<line x1="507.34" y1="439" x2="507.34" y2="446.3" stroke="#737373" stroke-width="1"/>
<text x="507.34" y="464.7" font-size="11.8" fill="#4a4a4a" text-anchor="middle">45.44</text>
<line x1="623.32" y1="439" x2="623.32" y2="446.3" stroke="#737373" stroke-width="1"/>
<text x="623.32" y="464.7" font-size="11.8" fill="#4a4a4a" text-anchor="middle">45.46</text>
<text x="344.8" y="482.5" font-size="12" fill="#4a4a4a" text-anchor="middle">Position on chr19 (Mb)</text>
<rect x="55.2" y="508.9" width="579.8" height="10.5" fill="#4a4a4a"/>
<rect x="56" y="508.9" width="0.6" height="10.5" fill="#585858"/>
<rect x="58.68" y="508.9" width="0.5" height="10.5" fill="#525252"/>
<rect x="62.65" y="508.9" width="0.5" height="10.5" fill="#424242"/>
<rect x="65.9" y="508.9" width="0.8" height="10.5" fill="#585858"/>
<rect x="67.51" y="508.9" width="0.6" height="10.5" fill="#5c5c5c"/>
<rect x="69.22" y="508.9" width="0.5" height="10.5" fill="#3e3e3e"/>
<rect x="71.99" y="508.9" width="0.8" height="10.5" fill="#525252"/>
<rect x="76.33" y="508.9" width="0.8" height="10.5" fill="#3e3e3e"/>
<rect x="80.68" y="508.9" width="0.8" height="10.5" fill="#3e3e3e"/>
<rect x="83.37" y="508.9" width="0.5" height="10.5" fill="#525252"/>
<rect x="86.54" y="508.9" width="0.5" height="10.5" fill="#424242"/>
<rect x="89.3" y="508.9" width="0.8" height="10.5" fill="#525252"/>
<rect x="92.51" y="508.9" width="0.8" height="10.5" fill="#585858"/>
<rect x="94.32" y="508.9" width="0.8" height="10.5" fill="#585858"/>
<rect x="96.93" y="508.9" width="0.8" height="10.5" fill="#525252"/>
<rect x="100.13" y="508.9" width="0.8" height="10.5" fill="#585858"/>
<rect x="103.12" y="508.9" width="0.8" height="10.5" fill="#5c5c5c"/>
<rect x="106.95" y="508.9" width="0.6" height="10.5" fill="#3e3e3e"/>
<rect x="111.22" y="508.9" width="0.6" height="10.5" fill="#424242"/>
<rect x="113.46" y="508.9" width="0.5" height="10.5" fill="#585858"/>
<rect x="115.21" y="508.9" width="0.6" height="10.5" fill="#3e3e3e"/>
<rect x="118.19" y="508.9" width="0.6" height="10.5" fill="#5c5c5c"/>
<rect x="120.56" y="508.9" width="0.5" height="10.5" fill="#525252"/>
<rect x="123.59" y="508.9" width="0.5" height="10.5" fill="#424242"/>
<rect x="125.55" y="508.9" width="0.6" height="10.5" fill="#5c5c5c"/>
<rect x="127.17" y="508.9" width="0.8" height="10.5" fill="#525252"/>
<rect x="130.96" y="508.9" width="0.8" height="10.5" fill="#424242"/>
<rect x="133.48" y="508.9" width="0.6" height="10.5" fill="#3e3e3e"/>
<rect x="136.47" y="508.9" width="0.6" height="10.5" fill="#525252"/>
<rect x="140.49" y="508.9" width="0.6" height="10.5" fill="#5c5c5c"/>
<rect x="144.08" y="508.9" width="0.5" height="10.5" fill="#525252"/>
<rect x="147.78" y="508.9" width="0.6" height="10.5" fill="#3e3e3e"/>
<rect x="152.26" y="508.9" width="0.6" height="10.5" fill="#424242"/>
<rect x="155.91" y="508.9" width="0.8" height="10.5" fill="#424242"/>
<rect x="157.47" y="508.9" width="0.6" height="10.5" fill="#424242"/>
<rect x="159.48" y="508.9" width="0.5" height="10.5" fill="#5c5c5c"/>
<rect x="161.15" y="508.9" width="0.6" height="10.5" fill="#585858"/>
<rect x="164.87" y="508.9" width="0.6" height="10.5" fill="#5c5c5c"/>
<rect x="169.12" y="508.9" width="0.6" height="10.5" fill="#525252"/>
<rect x="171.12" y="508.9" width="0.6" height="10.5" fill="#3e3e3e"/>
<rect x="173.45" y="508.9" width="0.5" height="10.5" fill="#5c5c5c"/>
<rect x="177.54" y="508.9" width="0.6" height="10.5" fill="#5c5c5c"/>
<rect x="182" y="508.9" width="0.8" height="10.5" fill="#5c5c5c"/>
<rect x="186.38" y="508.9" width="0.5" height="10.5" fill="#525252"/>
<rect x="188.41" y="508.9" width="0.5" height="10.5" fill="#585858"/>
<rect x="189.94" y="508.9" width="0.8" height="10.5" fill="#585858"/>
<rect x="192.23" y="508.9" width="0.5" height="10.5" fill="#585858"/>
<rect x="194.99" y="508.9" width="0.6" height="10.5" fill="#3e3e3e"/>
<rect x="198.19" y="508.9" width="0.5" height="10.5" fill="#3e3e3e"/>
<rect x="202.54" y="508.9" width="0.8" height="10.5" fill="#525252"/>
<rect x="205.41" y="508.9" width="0.8" height="10.5" fill="#3e3e3e"/>
<rect x="208.08" y="508.9" width="0.6" height="10.5" fill="#5c5c5c"/>
<rect x="209.89" y="508.9" width="0.8" height="10.5" fill="#5c5c5c"/>
<rect x="211.58" y="508.9" width="0.5" height="10.5" fill="#585858"/>
<rect x="214.4" y="508.9" width="0.5" height="10.5" fill="#424242"/>
<rect x="217.71" y="508.9" width="0.5" height="10.5" fill="#525252"/>
<rect x="220.91" y="508.9" width="0.8" height="10.5" fill="#525252"/>
<rect x="225.25" y="508.9" width="0.8" height="10.5" fill="#525252"/>
<rect x="226.96" y="508.9" width="0.5" height="10.5" fill="#3e3e3e"/>
<rect x="229.59" y="508.9" width="0.8" height="10.5" fill="#424242"/>
<rect x="233.96" y="508.9" width="0.8" height="10.5" fill="#424242"/>
<rect x="236.88" y="508.9" width="0.5" height="10.5" fill="#5c5c5c"/>
<rect x="241.36" y="508.9" width="0.6" height="10.5" fill="#5c5c5c"/>
<rect x="244.31" y="508.9" width="0.5" height="10.5" fill="#585858"/>
<rect x="246.12" y="508.9" width="0.6" height="10.5" fill="#424242"/>
<rect x="249.05" y="508.9" width="0.8" height="10.5" fill="#585858"/>
<rect x="252.1" y="508.9" width="0.5" height="10.5" fill="#3e3e3e"/>
<rect x="254.69" y="508.9" width="0.8" height="10.5" fill="#3e3e3e"/>
<rect x="258.93" y="508.9" width="0.8" height="10.5" fill="#424242"/>
<rect x="263.37" y="508.9" width="0.5" height="10.5" fill="#424242"/>
<rect x="266.42" y="508.9" width="0.5" height="10.5" fill="#424242"/>
<rect x="270.24" y="508.9" width="0.8" height="10.5" fill="#3e3e3e"/>
<rect x="274.07" y="508.9" width="0.6" height="10.5" fill="#585858"/>
<rect x="277.41" y="508.9" width="0.5" height="10.5" fill="#585858"/>
<rect x="281.37" y="508.9" width="0.8" height="10.5" fill="#585858"/>
<rect x="283.47" y="508.9" width="0.6" height="10.5" fill="#424242"/>
<rect x="287.16" y="508.9" width="0.5" height="10.5" fill="#424242"/>
<rect x="290.08" y="508.9" width="0.5" height="10.5" fill="#3e3e3e"/>
<rect x="294.45" y="508.9" width="0.6" height="10.5" fill="#424242"/>
<rect x="298.81" y="508.9" width="0.6" height="10.5" fill="#525252"/>
<rect x="300.97" y="508.9" width="0.5" height="10.5" fill="#5c5c5c"/>
<rect x="303.06" y="508.9" width="0.5" height="10.5" fill="#5c5c5c"/>
<rect x="306.44" y="508.9" width="0.8" height="10.5" fill="#525252"/>
<rect x="309.38" y="508.9" width="0.8" height="10.5" fill="#424242"/>
<rect x="313.27" y="508.9" width="0.5" height="10.5" fill="#525252"/>
<rect x="317.5" y="508.9" width="0.8" height="10.5" fill="#585858"/>
<rect x="320.44" y="508.9" width="0.5" height="10.5" fill="#5c5c5c"/>
<rect x="324.31" y="508.9" width="0.6" height="10.5" fill="#525252"/>
<rect x="328.21" y="508.9" width="0.8" height="10.5" fill="#5c5c5c"/>
<rect x="331.1" y="508.9" width="0.8" height="10.5" fill="#525252"/>
<rect x="334.77" y="508.9" width="0.5" height="10.5" fill="#585858"/>
<rect x="336.35" y="508.9" width="0.8" height="10.5" fill="#5c5c5c"/>
<rect x="340.27" y="508.9" width="0.5" height="10.5" fill="#3e3e3e"/>
<rect x="344.25" y="508.9" width="0.6" height="10.5" fill="#424242"/>
<rect x="346.22" y="508.9" width="0.8" height="10.5" fill="#585858"/>
<rect x="347.79" y="508.9" width="0.8" height="10.5" fill="#525252"/>
<rect x="350.86" y="508.9" width="0.5" height="10.5" fill="#5c5c5c"/>
<rect x="355.32" y="508.9" width="0.5" height="10.5" fill="#585858"/>
<rect x="356.91" y="508.9" width="0.5" height="10.5" fill="#424242"/>
<rect x="359.91" y="508.9" width="0.8" height="10.5" fill="#424242"/>
<rect x="362.19" y="508.9" width="0.6" height="10.5" fill="#585858"/>
<rect x="363.87" y="508.9" width="0.8" height="10.5" fill="#424242"/>
<rect x="368.07" y="508.9" width="0.8" height="10.5" fill="#3e3e3e"/>
<rect x="372.01" y="508.9" width="0.8" height="10.5" fill="#5c5c5c"/>
<rect x="375.99" y="508.9" width="0.8" height="10.5" fill="#585858"/>
<rect x="379.09" y="508.9" width="0.8" height="10.5" fill="#3e3e3e"/>
<rect x="380.64" y="508.9" width="0.6" height="10.5" fill="#585858"/>
<rect x="383.97" y="508.9" width="0.5" height="10.5" fill="#585858"/>
<rect x="385.89" y="508.9" width="0.8" height="10.5" fill="#525252"/>
<rect x="389.06" y="508.9" width="0.6" height="10.5" fill="#3e3e3e"/>
<rect x="392.16" y="508.9" width="0.6" height="10.5" fill="#525252"/>
<rect x="396.31" y="508.9" width="0.5" height="10.5" fill="#585858"/>
<rect x="398.38" y="508.9" width="0.5" height="10.5" fill="#525252"/>
<rect x="401.4" y="508.9" width="0.8" height="10.5" fill="#525252"/>
<rect x="405.18" y="508.9" width="0.5" height="10.5" fill="#5c5c5c"/>
<rect x="407.66" y="508.9" width="0.8" height="10.5" fill="#3e3e3e"/>
<rect x="410.7" y="508.9" width="0.8" height="10.5" fill="#424242"/>
<rect x="413.55" y="508.9" width="0.8" height="10.5" fill="#5c5c5c"/>
<rect x="416.58" y="508.9" width="0.5" height="10.5" fill="#3e3e3e"/>
<rect x="420.71" y="508.9" width="0.6" height="10.5" fill="#3e3e3e"/>
<rect x="424.88" y="508.9" width="0.5" height="10.5" fill="#5c5c5c"/>
<rect x="426.8" y="508.9" width="0.5" height="10.5" fill="#5c5c5c"/>
<rect x="429.62" y="508.9" width="0.5" height="10.5" fill="#585858"/>
<rect x="432.41" y="508.9" width="0.5" height="10.5" fill="#424242"/>
<rect x="436.26" y="508.9" width="0.5" height="10.5" fill="#424242"/>
<rect x="438.19" y="508.9" width="0.5" height="10.5" fill="#5c5c5c"/>
<rect x="440.35" y="508.9" width="0.5" height="10.5" fill="#5c5c5c"/>
<rect x="444.5" y="508.9" width="0.5" height="10.5" fill="#585858"/>
<rect x="446.49" y="508.9" width="0.6" height="10.5" fill="#3e3e3e"/>
<rect x="449.2" y="508.9" width="0.6" height="10.5" fill="#585858"/>
<rect x="451.77" y="508.9" width="0.5" height="10.5" fill="#424242"/>
<rect x="453.33" y="508.9" width="0.8" height="10.5" fill="#5c5c5c"/>
<rect x="456.15" y="508.9" width="0.5" height="10.5" fill="#5c5c5c"/>
<rect x="458.64" y="508.9" width="0.8" height="10.5" fill="#424242"/>
<rect x="461.68" y="508.9" width="0.5" height="10.5" fill="#525252"/>
<rect x="466.13" y="508.9" width="0.5" height="10.5" fill="#525252"/>
<rect x="467.89" y="508.9" width="0.6" height="10.5" fill="#525252"/>
<rect x="472.1" y="508.9" width="0.5" height="10.5" fill="#424242"/>
<rect x="475.87" y="508.9" width="0.6" height="10.5" fill="#424242"/>
<rect x="478.59" y="508.9" width="0.8" height="10.5" fill="#3e3e3e"/>
<rect x="481.8" y="508.9" width="0.8" height="10.5" fill="#424242"/>
<rect x="483.57" y="508.9" width="0.5" height="10.5" fill="#585858"/>
<rect x="486.34" y="508.9" width="0.5" height="10.5" fill="#424242"/>
<rect x="490.66" y="508.9" width="0.8" height="10.5" fill="#525252"/>
<rect x="494.56" y="508.9" width="0.5" height="10.5" fill="#3e3e3e"/>
<rect x="498.63" y="508.9" width="0.5" height="10.5" fill="#424242"/>
<rect x="502.72" y="508.9" width="0.6" height="10.5" fill="#525252"/>
<rect x="505.24" y="508.9" width="0.8" height="10.5" fill="#5c5c5c"/>
<rect x="509.52" y="508.9" width="0.6" height="10.5" fill="#3e3e3e"/>
<rect x="511.41" y="508.9" width="0.8" height="10.5" fill="#585858"/>
<rect x="515.72" y="508.9" width="0.5" height="10.5" fill="#424242"/>
<rect x="517.37" y="508.9" width="0.5" height="10.5" fill="#424242"/>
<rect x="520.76" y="508.9" width="0.8" height="10.5" fill="#585858"/>
<rect x="523.13" y="508.9" width="0.8" height="10.5" fill="#585858"/>
<rect x="525.44" y="508.9" width="0.5" height="10.5" fill="#424242"/>
<rect x="527.05" y="508.9" width="0.5" height="10.5" fill="#3e3e3e"/>
<rect x="530.2" y="508.9" width="0.5" height="10.5" fill="#3e3e3e"/>
<rect x="533.13" y="508.9" width="0.6" height="10.5" fill="#525252"/>
<rect x="536.6" y="508.9" width="0.8" height="10.5" fill="#5c5c5c"/>
<rect x="540.07" y="508.9" width="0.8" height="10.5" fill="#5c5c5c"/>
<rect x="544.48" y="508.9" width="0.6" height="10.5" fill="#585858"/>
<rect x="548.93" y="508.9" width="0.6" height="10.5" fill="#585858"/>
<rect x="552.93" y="508.9" width="0.8" height="10.5" fill="#585858"/>
<rect x="555.64" y="508.9" width="0.6" height="10.5" fill="#525252"/>
<rect x="559.65" y="508.9" width="0.5" height="10.5" fill="#525252"/>
<rect x="563.03" y="508.9" width="0.6" height="10.5" fill="#5c5c5c"/>
<rect x="565.02" y="508.9" width="0.5" height="10.5" fill="#5c5c5c"/>
<rect x="569.13" y="508.9" width="0.8" height="10.5" fill="#424242"/>
<rect x="572.43" y="508.9" width="0.8" height="10.5" fill="#424242"/>
<rect x="574.06" y="508.9" width="0.5" height="10.5" fill="#585858"/>
<rect x="576.37" y="508.9" width="0.5" height="10.5" fill="#424242"/>
<rect x="578.96" y="508.9" width="0.6" height="10.5" fill="#3e3e3e"/>
<rect x="581.43" y="508.9" width="0.5" height="10.5" fill="#424242"/>
<rect x="583.59" y="508.9" width="0.5" height="10.5" fill="#525252"/>
<rect x="586.09" y="508.9" width="0.5" height="10.5" fill="#5c5c5c"/>
<rect x="588.43" y="508.9" width="0.8" height="10.5" fill="#585858"/>
<rect x="590.67" y="508.9" width="0.5" height="10.5" fill="#525252"/>
<rect x="592.97" y="508.9" width="0.5" height="10.5" fill="#585858"/>
<rect x="595.66" y="508.9" width="0.5" height="10.5" fill="#5c5c5c"/>
<rect x="597.23" y="508.9" width="0.6" height="10.5" fill="#585858"/>
<rect x="598.99" y="508.9" width="0.8" height="10.5" fill="#585858"/>
<rect x="602.46" y="508.9" width="0.8" height="10.5" fill="#3e3e3e"/>
<rect x="605.13" y="508.9" width="0.6" height="10.5" fill="#5c5c5c"/>
<rect x="607.07" y="508.9" width="0.8" height="10.5" fill="#3e3e3e"/>
<rect x="610.5" y="508.9" width="0.5" height="10.5" fill="#3e3e3e"/>
<rect x="613.89" y="508.9" width="0.8" height="10.5" fill="#3e3e3e"/>
<rect x="615.8" y="508.9" width="0.8" height="10.5" fill="#3e3e3e"/>
<rect x="619.01" y="508.9" width="0.5" height="10.5" fill="#3e3e3e"/>
<rect x="622.9" y="508.9" width="0.8" height="10.5" fill="#585858"/>
<rect x="624.66" y="508.9" width="0.5" height="10.5" fill="#585858"/>
<rect x="628.07" y="508.9" width="0.5" height="10.5" fill="#5c5c5c"/>
<rect x="632.08" y="508.9" width="0.8" height="10.5" fill="#525252"/>
<rect x="88.5" y="508.9" width="0.8" height="10.5" fill="#b4b4b4"/>
<rect x="96.6" y="508.9" width="0.8" height="10.5" fill="#b4b4b4"/>
<rect x="110.6" y="508.9" width="0.8" height="10.5" fill="#b4b4b4"/>
<rect x="118.3" y="508.9" width="0.8" height="10.5" fill="#b4b4b4"/>
<rect x="141.2" y="508.9" width="1" height="10.5" fill="#b4b4b4"/>
<rect x="152.3" y="508.9" width="1" height="10.5" fill="#b4b4b4"/>
<rect x="164.6" y="508.9" width="0.8" height="10.5" fill="#b4b4b4"/>
<rect x="186.7" y="508.9" width="1" height="10.5" fill="#b4b4b4"/>
<rect x="193.3" y="508.9" width="0.8" height="10.5" fill="#b4b4b4"/>
<rect x="205" y="508.9" width="1.8" height="10.5" fill="#b4b4b4"/>
<rect x="208.1" y="508.9" width="0.8" height="10.5" fill="#b4b4b4"/>
<rect x="248.9" y="508.9" width="1" height="10.5" fill="#b4b4b4"/>
<rect x="255.9" y="508.9" width="1" height="10.5" fill="#b4b4b4"/>
<rect x="273.9" y="508.9" width="1.2" height="10.5" fill="#b4b4b4"/>
<rect x="279.9" y="508.9" width="0.8" height="10.5" fill="#b4b4b4"/>
<rect x="305.8" y="508.9" width="1" height="10.5" fill="#b4b4b4"/>
<rect x="326.8" y="508.9" width="1" height="10.5" fill="#b4b4b4"/>
<rect x="356.3" y="508.9" width="1" height="10.5" fill="#b4b4b4"/>
<rect x="385.95" y="508.9" width="1.7" height="10.5" fill="#b4b4b4"/>
<rect x="415.7" y="508.9" width="4" height="10.5" fill="#b4b4b4"/>
<rect x="429.4" y="508.9" width="0.8" height="10.5" fill="#b4b4b4"/>
<rect x="444.7" y="508.9" width="1" height="10.5" fill="#b4b4b4"/>
<rect x="480.9" y="508.9" width="1" height="10.5" fill="#b4b4b4"/>
<rect x="511.4" y="508.9" width="2.4" height="10.5" fill="#b4b4b4"/>
<rect x="538.4" y="508.9" width="1" height="10.5" fill="#b4b4b4"/>
<rect x="548.9" y="508.9" width="1" height="10.5" fill="#b4b4b4"/>
<rect x="552.4" y="508.9" width="1" height="10.5" fill="#b4b4b4"/>
<rect x="564.1" y="508.9" width="1" height="10.5" fill="#b4b4b4"/>
<rect x="592.6" y="508.9" width="1.4" height="10.5" fill="#b4b4b4"/>
<rect x="602" y="508.9" width="1" height="10.5" fill="#b4b4b4"/>
<rect x="57.4" y="508.9" width="1" height="10.5" fill="#e4e4e4"/>
<rect x="60.6" y="508.9" width="2" height="10.5" fill="#e4e4e4"/>
<rect x="67.8" y="508.9" width="1.8" height="10.5" fill="#e4e4e4"/>
<rect x="70.75" y="508.9" width="1.7" height="10.5" fill="#e4e4e4"/>
<rect x="126.3" y="508.9" width="2" height="10.5" fill="#e4e4e4"/>
<rect x="178.45" y="508.9" width="1.7" height="10.5" fill="#e4e4e4"/>
<rect x="206.5" y="508.9" width="1.2" height="10.5" fill="#e4e4e4"/>
<rect x="212" y="508.9" width="1.2" height="10.5" fill="#e4e4e4"/>
<rect x="220.75" y="508.9" width="1.1" height="10.5" fill="#e4e4e4"/>
<rect x="233.6" y="508.9" width="1.8" height="10.5" fill="#e4e4e4"/>
<rect x="245.3" y="508.9" width="1.2" height="10.5" fill="#e4e4e4"/>
<rect x="262.2" y="508.9" width="1.2" height="10.5" fill="#e4e4e4"/>
<rect x="291.65" y="508.9" width="1.7" height="10.5" fill="#e4e4e4"/>
<rect x="310.35" y="508.9" width="1.1" height="10.5" fill="#e4e4e4"/>
<rect x="332" y="508.9" width="1.2" height="10.5" fill="#e4e4e4"/>
<rect x="337.3" y="508.9" width="1" height="10.5" fill="#e4e4e4"/>
<rect x="344.35" y="508.9" width="0.9" height="10.5" fill="#e4e4e4"/>
<rect x="346.75" y="508.9" width="0.9" height="10.5" fill="#e4e4e4"/>
<rect x="357.7" y="508.9" width="1.2" height="10.5" fill="#e4e4e4"/>
<rect x="362.6" y="508.9" width="1.2" height="10.5" fill="#e4e4e4"/>
<rect x="390" y="508.9" width="1.8" height="10.5" fill="#e4e4e4"/>
<rect x="399.4" y="508.9" width="1.2" height="10.5" fill="#e4e4e4"/>
<rect x="430" y="508.9" width="1.2" height="10.5" fill="#e4e4e4"/>
<rect x="453.35" y="508.9" width="1.7" height="10.5" fill="#e4e4e4"/>
<rect x="465.6" y="508.9" width="1.8" height="10.5" fill="#e4e4e4"/>
<rect x="491.3" y="508.9" width="2.4" height="10.5" fill="#e4e4e4"/>
<rect x="495.55" y="508.9" width="0.9" height="10.5" fill="#e4e4e4"/>
<rect x="497.85" y="508.9" width="0.9" height="10.5" fill="#e4e4e4"/>
<rect x="501.95" y="508.9" width="0.9" height="10.5" fill="#e4e4e4"/>
<rect x="504.35" y="508.9" width="0.9" height="10.5" fill="#e4e4e4"/>
<rect x="506.15" y="508.9" width="1.1" height="10.5" fill="#e4e4e4"/>
<rect x="517.25" y="508.9" width="2.3" height="10.5" fill="#e4e4e4"/>
<rect x="522.65" y="508.9" width="0.9" height="10.5" fill="#e4e4e4"/>
<rect x="524.85" y="508.9" width="2.3" height="10.5" fill="#e4e4e4"/>
<rect x="573.9" y="508.9" width="1.2" height="10.5" fill="#e4e4e4"/>
<rect x="585.9" y="508.9" width="1" height="10.5" fill="#e4e4e4"/>
<rect x="616.25" y="508.9" width="0.9" height="10.5" fill="#e4e4e4"/>
<rect x="622.9" y="508.9" width="1" height="10.5" fill="#e4e4e4"/>
<text x="51.8" y="518.2" font-size="10.6" fill="#4e4e4e" text-anchor="end">1kg</text>
<text x="6.4" y="557.9" font-size="18.5" fill="#111">b)</text>
<line x1="48" y1="824.3" x2="55.5" y2="824.3" stroke="#737373" stroke-width="1"/>
<text x="40" y="828.4" font-size="11.5" fill="#4a4a4a" text-anchor="end">0</text>
<line x1="48" y1="775.1" x2="55.5" y2="775.1" stroke="#737373" stroke-width="1"/>
<text x="40" y="779.2" font-size="11.5" fill="#4a4a4a" text-anchor="end">2</text>
<line x1="48" y1="725.9" x2="55.5" y2="725.9" stroke="#737373" stroke-width="1"/>
<text x="40" y="730" font-size="11.5" fill="#4a4a4a" text-anchor="end">4</text>
<line x1="48" y1="676.7" x2="55.5" y2="676.7" stroke="#737373" stroke-width="1"/>
<text x="40" y="680.8" font-size="11.5" fill="#4a4a4a" text-anchor="end">6</text>
<line x1="48" y1="627.5" x2="55.5" y2="627.5" stroke="#737373" stroke-width="1"/>
<text x="40" y="631.6" font-size="11.5" fill="#4a4a4a" text-anchor="end">8</text>
<line x1="48" y1="578.3" x2="55.5" y2="578.3" stroke="#737373" stroke-width="1"/>
<text x="40" y="582.4" font-size="11.5" fill="#4a4a4a" text-anchor="end">10</text>
<text transform="translate(15,688) rotate(-90)" font-size="12" fill="#4a4a4a" text-anchor="middle">&#8722;<tspan dx="1.6">log</tspan><tspan font-size="8" dy="2">10</tspan><tspan dy="-2">(p&#8722;value)</tspan></text>
<line x1="635.5" y1="824.4" x2="642.5" y2="824.4" stroke="#f2b860" stroke-width="1"/>
<text x="650" y="828.5" font-size="11.5" fill="#f3bb6c">0</text>
<line x1="635.5" y1="769.44" x2="642.5" y2="769.44" stroke="#f2b860" stroke-width="1"/>
<text x="650" y="773.54" font-size="11.5" fill="#f3bb6c">20</text>
<line x1="635.5" y1="714.48" x2="642.5" y2="714.48" stroke="#f2b860" stroke-width="1"/>
<text x="650" y="718.58" font-size="11.5" fill="#f3bb6c">40</text>
<line x1="635.5" y1="659.52" x2="642.5" y2="659.52" stroke="#f2b860" stroke-width="1"/>
<text x="650" y="663.62" font-size="11.5" fill="#f3bb6c">60</text>
<line x1="635.5" y1="604.56" x2="642.5" y2="604.56" stroke="#f2b860" stroke-width="1"/>
<text x="650" y="608.66" font-size="11.5" fill="#f3bb6c">80</text>
<line x1="635.5" y1="549.6" x2="642.5" y2="549.6" stroke="#f2b860" stroke-width="1"/>
<text x="650" y="553.7" font-size="11.5" fill="#f3bb6c">100</text>
<text transform="translate(674.6,686.7) rotate(90)" font-size="12.1" fill="#f3bb6c" text-anchor="middle">Recombination rate (cM/Mb)</text>
<clipPath id="cp506"><rect x="56" y="536.5" width="578.6" height="300.7"/></clipPath>
<g clip-path="url(#cp506)">
<circle cx="346" cy="576" r="3.75" fill="#161d66" stroke="#181c40" stroke-width="0.9"/>
<circle cx="326.9" cy="657.2" r="3.75" fill="#161d66" stroke="#181c40" stroke-width="0.9"/>
<circle cx="175.5" cy="581.9" r="3.75" fill="#161d66" stroke="#181c40" stroke-width="0.9"/>
<circle cx="177.2" cy="732.5" r="3.75" fill="#161d66" stroke="#181c40" stroke-width="0.9"/>
<circle cx="431.2" cy="664.1" r="3.75" fill="#161d66" stroke="#181c40" stroke-width="0.9"/>
<circle cx="359.3" cy="675.8" r="3.75" fill="#161d66" stroke="#181c40" stroke-width="0.9"/>
<circle cx="414.7" cy="679.7" r="3.75" fill="#161d66" stroke="#181c40" stroke-width="0.9"/>
<circle cx="366.3" cy="691.8" r="3.75" fill="#161d66" stroke="#181c40" stroke-width="0.9"/>
<circle cx="373.6" cy="692.8" r="3.75" fill="#161d66" stroke="#181c40" stroke-width="0.9"/>
<circle cx="416.9" cy="702.5" r="3.75" fill="#161d66" stroke="#181c40" stroke-width="0.9"/>
<circle cx="295.6" cy="744.5" r="3.75" fill="#161d66" stroke="#181c40" stroke-width="0.9"/>
<circle cx="298.3" cy="746.7" r="3.75" fill="#161d66" stroke="#181c40" stroke-width="0.9"/>
<circle cx="301.9" cy="748.2" r="3.75" fill="#161d66" stroke="#181c40" stroke-width="0.9"/>
<circle cx="304.9" cy="749.3" r="3.75" fill="#161d66" stroke="#181c40" stroke-width="0.9"/>
<circle cx="304.9" cy="751.9" r="3.75" fill="#161d66" stroke="#181c40" stroke-width="0.9"/>
<circle cx="320.9" cy="744.6" r="3.75" fill="#161d66" stroke="#181c40" stroke-width="0.9"/>
<circle cx="251.6" cy="753.4" r="3.75" fill="#161d66" stroke="#181c40" stroke-width="0.9"/>
<circle cx="259.6" cy="755.1" r="3.75" fill="#161d66" stroke="#181c40" stroke-width="0.9"/>
<circle cx="280" cy="762.4" r="3.75" fill="#161d66" stroke="#181c40" stroke-width="0.9"/>
<circle cx="291.7" cy="763.3" r="3.75" fill="#161d66" stroke="#181c40" stroke-width="0.9"/>
<circle cx="298.6" cy="761.4" r="3.75" fill="#161d66" stroke="#181c40" stroke-width="0.9"/>
<circle cx="261.4" cy="766.5" r="3.75" fill="#161d66" stroke="#181c40" stroke-width="0.9"/>
<circle cx="268.4" cy="765.8" r="3.75" fill="#161d66" stroke="#181c40" stroke-width="0.9"/>
<circle cx="265.4" cy="767.2" r="3.75" fill="#161d66" stroke="#181c40" stroke-width="0.9"/>
<circle cx="285.1" cy="771.2" r="3.75" fill="#161d66" stroke="#181c40" stroke-width="0.9"/>
<circle cx="288.8" cy="770.1" r="3.75" fill="#161d66" stroke="#181c40" stroke-width="0.9"/>
<circle cx="290.3" cy="774.5" r="3.75" fill="#161d66" stroke="#181c40" stroke-width="0.9"/>
<circle cx="257.8" cy="776" r="3.75" fill="#161d66" stroke="#181c40" stroke-width="0.9"/>
<circle cx="269.1" cy="774.5" r="3.75" fill="#161d66" stroke="#181c40" stroke-width="0.9"/>
<circle cx="249.1" cy="781.1" r="3.75" fill="#161d66" stroke="#181c40" stroke-width="0.9"/>
<circle cx="307.8" cy="778.6" r="3.75" fill="#161d66" stroke="#181c40" stroke-width="0.9"/>
<circle cx="325.7" cy="776" r="3.75" fill="#161d66" stroke="#181c40" stroke-width="0.9"/>
<circle cx="336.2" cy="782.6" r="3.75" fill="#161d66" stroke="#181c40" stroke-width="0.9"/>
<circle cx="325.3" cy="786.9" r="3.75" fill="#161d66" stroke="#181c40" stroke-width="0.9"/>
<circle cx="328.9" cy="795.7" r="3.75" fill="#161d66" stroke="#181c40" stroke-width="0.9"/>
<circle cx="258.1" cy="786.2" r="3.75" fill="#161d66" stroke="#181c40" stroke-width="0.9"/>
<circle cx="263.2" cy="789.1" r="3.75" fill="#161d66" stroke="#181c40" stroke-width="0.9"/>
<circle cx="267.6" cy="794.2" r="3.75" fill="#161d66" stroke="#181c40" stroke-width="0.9"/>
<circle cx="269.1" cy="785.5" r="3.75" fill="#161d66" stroke="#181c40" stroke-width="0.9"/>
<circle cx="272" cy="783.7" r="3.75" fill="#161d66" stroke="#181c40" stroke-width="0.9"/>
<circle cx="274.9" cy="789.1" r="3.75" fill="#161d66" stroke="#181c40" stroke-width="0.9"/>
<circle cx="280" cy="789.1" r="3.75" fill="#161d66" stroke="#181c40" stroke-width="0.9"/>
<circle cx="253.8" cy="797.2" r="3.75" fill="#161d66" stroke="#181c40" stroke-width="0.9"/>
<circle cx="294.3" cy="790.6" r="3.75" fill="#161d66" stroke="#181c40" stroke-width="0.9"/>
<circle cx="304.1" cy="791.3" r="3.75" fill="#161d66" stroke="#181c40" stroke-width="0.9"/>
<circle cx="307.8" cy="803.7" r="3.75" fill="#161d66" stroke="#181c40" stroke-width="0.9"/>
<circle cx="286.6" cy="810.7" r="3.75" fill="#161d66" stroke="#181c40" stroke-width="0.9"/>
<circle cx="302.7" cy="810.7" r="3.75" fill="#161d66" stroke="#181c40" stroke-width="0.9"/>
<circle cx="247.9" cy="816.9" r="3.75" fill="#161d66" stroke="#181c40" stroke-width="0.9"/>
<circle cx="251.6" cy="814.7" r="3.75" fill="#161d66" stroke="#181c40" stroke-width="0.9"/>
<circle cx="259.6" cy="819" r="3.75" fill="#161d66" stroke="#181c40" stroke-width="0.9"/>
<circle cx="272.7" cy="816.4" r="3.75" fill="#161d66" stroke="#181c40" stroke-width="0.9"/>
<circle cx="280.8" cy="819.3" r="3.75" fill="#161d66" stroke="#181c40" stroke-width="0.9"/>
<circle cx="301.9" cy="819" r="3.75" fill="#161d66" stroke="#181c40" stroke-width="0.9"/>
<circle cx="305.6" cy="818.3" r="3.75" fill="#161d66" stroke="#181c40" stroke-width="0.9"/>
<circle cx="320.2" cy="823.4" r="3.75" fill="#161d66" stroke="#181c40" stroke-width="0.9"/>
<circle cx="331.6" cy="822" r="3.75" fill="#161d66" stroke="#181c40" stroke-width="0.9"/>
<circle cx="171.6" cy="774.5" r="3.75" fill="#161d66" stroke="#181c40" stroke-width="0.9"/>
<circle cx="176" cy="777.4" r="3.75" fill="#161d66" stroke="#181c40" stroke-width="0.9"/>
<circle cx="183.6" cy="783.3" r="3.75" fill="#161d66" stroke="#181c40" stroke-width="0.9"/>
<circle cx="185.8" cy="785.5" r="3.75" fill="#161d66" stroke="#181c40" stroke-width="0.9"/>
<circle cx="193.4" cy="780.4" r="3.75" fill="#161d66" stroke="#181c40" stroke-width="0.9"/>
<circle cx="215.4" cy="773.5" r="3.75" fill="#161d66" stroke="#181c40" stroke-width="0.9"/>
<circle cx="154.4" cy="785.2" r="3.75" fill="#161d66" stroke="#181c40" stroke-width="0.9"/>
<circle cx="152.2" cy="801.5" r="3.75" fill="#161d66" stroke="#181c40" stroke-width="0.9"/>
<circle cx="158.5" cy="797.9" r="3.75" fill="#161d66" stroke="#181c40" stroke-width="0.9"/>
<circle cx="155.5" cy="805.2" r="3.75" fill="#161d66" stroke="#181c40" stroke-width="0.9"/>
<circle cx="167.2" cy="801.5" r="3.75" fill="#161d66" stroke="#181c40" stroke-width="0.9"/>
<circle cx="170.4" cy="808.8" r="3.75" fill="#161d66" stroke="#181c40" stroke-width="0.9"/>
<circle cx="177" cy="803.7" r="3.75" fill="#161d66" stroke="#181c40" stroke-width="0.9"/>
<circle cx="181.4" cy="805.9" r="3.75" fill="#161d66" stroke="#181c40" stroke-width="0.9"/>
<circle cx="183.9" cy="807.4" r="3.75" fill="#161d66" stroke="#181c40" stroke-width="0.9"/>
<circle cx="190.1" cy="800.8" r="3.75" fill="#161d66" stroke="#181c40" stroke-width="0.9"/>
<circle cx="194.5" cy="801.5" r="3.75" fill="#161d66" stroke="#181c40" stroke-width="0.9"/>
<circle cx="198.2" cy="805.2" r="3.75" fill="#161d66" stroke="#181c40" stroke-width="0.9"/>
<circle cx="180.7" cy="811" r="3.75" fill="#161d66" stroke="#181c40" stroke-width="0.9"/>
<circle cx="201.1" cy="811.8" r="3.75" fill="#161d66" stroke="#181c40" stroke-width="0.9"/>
<circle cx="212.8" cy="811" r="3.75" fill="#161d66" stroke="#181c40" stroke-width="0.9"/>
<circle cx="216.9" cy="816.9" r="3.75" fill="#161d66" stroke="#181c40" stroke-width="0.9"/>
<circle cx="238.3" cy="806.6" r="3.75" fill="#161d66" stroke="#181c40" stroke-width="0.9"/>
<circle cx="226.6" cy="817.3" r="3.75" fill="#161d66" stroke="#181c40" stroke-width="0.9"/>
<circle cx="241.2" cy="817.6" r="3.75" fill="#161d66" stroke="#181c40" stroke-width="0.9"/>
<circle cx="247.1" cy="816.1" r="3.75" fill="#161d66" stroke="#181c40" stroke-width="0.9"/>
<circle cx="151.5" cy="814.7" r="3.75" fill="#161d66" stroke="#181c40" stroke-width="0.9"/>
<circle cx="158" cy="813.2" r="3.75" fill="#161d66" stroke="#181c40" stroke-width="0.9"/>
<circle cx="177.7" cy="818.3" r="3.75" fill="#161d66" stroke="#181c40" stroke-width="0.9"/>
<circle cx="187.2" cy="820.5" r="3.75" fill="#161d66" stroke="#181c40" stroke-width="0.9"/>
<circle cx="196.7" cy="816.9" r="3.75" fill="#161d66" stroke="#181c40" stroke-width="0.9"/>
<circle cx="206.9" cy="820.5" r="3.75" fill="#161d66" stroke="#181c40" stroke-width="0.9"/>
<circle cx="212.8" cy="819.8" r="3.75" fill="#161d66" stroke="#181c40" stroke-width="0.9"/>
<circle cx="155.8" cy="823.4" r="3.75" fill="#161d66" stroke="#181c40" stroke-width="0.9"/>
<circle cx="161.7" cy="822.7" r="3.75" fill="#161d66" stroke="#181c40" stroke-width="0.9"/>
<circle cx="166.1" cy="824.2" r="3.75" fill="#161d66" stroke="#181c40" stroke-width="0.9"/>
<circle cx="75.4" cy="766.5" r="3.75" fill="#161d66" stroke="#181c40" stroke-width="0.9"/>
<circle cx="97" cy="767.2" r="3.75" fill="#161d66" stroke="#181c40" stroke-width="0.9"/>
<circle cx="118.1" cy="759.6" r="3.75" fill="#161d66" stroke="#181c40" stroke-width="0.9"/>
<circle cx="122.4" cy="769.1" r="3.75" fill="#161d66" stroke="#181c40" stroke-width="0.9"/>
<circle cx="144.1" cy="781.4" r="3.75" fill="#161d66" stroke="#181c40" stroke-width="0.9"/>
<circle cx="153.1" cy="785.2" r="3.75" fill="#161d66" stroke="#181c40" stroke-width="0.9"/>
<circle cx="60.1" cy="787.7" r="3.75" fill="#161d66" stroke="#181c40" stroke-width="0.9"/>
<circle cx="57.9" cy="791.3" r="3.75" fill="#161d66" stroke="#181c40" stroke-width="0.9"/>
<circle cx="63.8" cy="791.3" r="3.75" fill="#161d66" stroke="#181c40" stroke-width="0.9"/>
<circle cx="69.6" cy="788.4" r="3.75" fill="#161d66" stroke="#181c40" stroke-width="0.9"/>
<circle cx="71.1" cy="784" r="3.75" fill="#161d66" stroke="#181c40" stroke-width="0.9"/>
<circle cx="75.4" cy="783.3" r="3.75" fill="#161d66" stroke="#181c40" stroke-width="0.9"/>
<circle cx="79.1" cy="784.7" r="3.75" fill="#161d66" stroke="#181c40" stroke-width="0.9"/>
<circle cx="81.3" cy="787.7" r="3.75" fill="#161d66" stroke="#181c40" stroke-width="0.9"/>
<circle cx="83.5" cy="791.3" r="3.75" fill="#161d66" stroke="#181c40" stroke-width="0.9"/>
<circle cx="90.8" cy="789.1" r="3.75" fill="#161d66" stroke="#181c40" stroke-width="0.9"/>
<circle cx="56.5" cy="797.2" r="3.75" fill="#161d66" stroke="#181c40" stroke-width="0.9"/>
<circle cx="87.1" cy="799.3" r="3.75" fill="#161d66" stroke="#181c40" stroke-width="0.9"/>
<circle cx="93" cy="804.5" r="3.75" fill="#161d66" stroke="#181c40" stroke-width="0.9"/>
<circle cx="88.6" cy="808.8" r="3.75" fill="#161d66" stroke="#181c40" stroke-width="0.9"/>
<circle cx="84.2" cy="815.4" r="3.75" fill="#161d66" stroke="#181c40" stroke-width="0.9"/>
<circle cx="90" cy="816.1" r="3.75" fill="#161d66" stroke="#181c40" stroke-width="0.9"/>
<circle cx="105.4" cy="791.3" r="3.75" fill="#161d66" stroke="#181c40" stroke-width="0.9"/>
<circle cx="109" cy="788.4" r="3.75" fill="#161d66" stroke="#181c40" stroke-width="0.9"/>
<circle cx="115.6" cy="792.8" r="3.75" fill="#161d66" stroke="#181c40" stroke-width="0.9"/>
<circle cx="106.1" cy="795.7" r="3.75" fill="#161d66" stroke="#181c40" stroke-width="0.9"/>
<circle cx="111.2" cy="798.6" r="3.75" fill="#161d66" stroke="#181c40" stroke-width="0.9"/>
<circle cx="103.2" cy="800.1" r="3.75" fill="#161d66" stroke="#181c40" stroke-width="0.9"/>
<circle cx="120.7" cy="788.4" r="3.75" fill="#161d66" stroke="#181c40" stroke-width="0.9"/>
<circle cx="123.6" cy="786.2" r="3.75" fill="#161d66" stroke="#181c40" stroke-width="0.9"/>
<circle cx="127.3" cy="788.4" r="3.75" fill="#161d66" stroke="#181c40" stroke-width="0.9"/>
<circle cx="133.1" cy="792" r="3.75" fill="#161d66" stroke="#181c40" stroke-width="0.9"/>
<circle cx="138.2" cy="792.8" r="3.75" fill="#161d66" stroke="#181c40" stroke-width="0.9"/>
<circle cx="142.6" cy="791.3" r="3.75" fill="#161d66" stroke="#181c40" stroke-width="0.9"/>
<circle cx="118.5" cy="810.3" r="3.75" fill="#161d66" stroke="#181c40" stroke-width="0.9"/>
<circle cx="137.9" cy="809.6" r="3.75" fill="#161d66" stroke="#181c40" stroke-width="0.9"/>
<circle cx="145.2" cy="807.4" r="3.75" fill="#161d66" stroke="#181c40" stroke-width="0.9"/>
<circle cx="151.4" cy="801.5" r="3.75" fill="#161d66" stroke="#181c40" stroke-width="0.9"/>
<circle cx="153.5" cy="805.2" r="3.75" fill="#161d66" stroke="#181c40" stroke-width="0.9"/>
<circle cx="56.5" cy="817.6" r="3.75" fill="#161d66" stroke="#181c40" stroke-width="0.9"/>
<circle cx="66" cy="817.6" r="3.75" fill="#161d66" stroke="#181c40" stroke-width="0.9"/>
<circle cx="63.8" cy="824.2" r="3.75" fill="#161d66" stroke="#181c40" stroke-width="0.9"/>
<circle cx="75.4" cy="822.7" r="3.75" fill="#161d66" stroke="#181c40" stroke-width="0.9"/>
<circle cx="86.4" cy="824.2" r="3.75" fill="#161d66" stroke="#181c40" stroke-width="0.9"/>
<circle cx="91.5" cy="823.4" r="3.75" fill="#161d66" stroke="#181c40" stroke-width="0.9"/>
<circle cx="102.4" cy="821.2" r="3.75" fill="#161d66" stroke="#181c40" stroke-width="0.9"/>
<circle cx="106.1" cy="823.4" r="3.75" fill="#161d66" stroke="#181c40" stroke-width="0.9"/>
<circle cx="110.5" cy="819" r="3.75" fill="#161d66" stroke="#181c40" stroke-width="0.9"/>
<circle cx="113.4" cy="817.6" r="3.75" fill="#161d66" stroke="#181c40" stroke-width="0.9"/>
<circle cx="116.3" cy="820.5" r="3.75" fill="#161d66" stroke="#181c40" stroke-width="0.9"/>
<circle cx="119.2" cy="824.2" r="3.75" fill="#161d66" stroke="#181c40" stroke-width="0.9"/>
<circle cx="130.9" cy="821.2" r="3.75" fill="#161d66" stroke="#181c40" stroke-width="0.9"/>
<circle cx="147" cy="816.1" r="3.75" fill="#161d66" stroke="#181c40" stroke-width="0.9"/>
<circle cx="149.2" cy="822.7" r="3.75" fill="#161d66" stroke="#181c40" stroke-width="0.9"/>
<circle cx="153.5" cy="815.4" r="3.75" fill="#161d66" stroke="#181c40" stroke-width="0.9"/>
<circle cx="154.3" cy="823.4" r="3.75" fill="#161d66" stroke="#181c40" stroke-width="0.9"/>
<circle cx="383.1" cy="776" r="3.75" fill="#161d66" stroke="#181c40" stroke-width="0.9"/>
<circle cx="351" cy="788.7" r="3.75" fill="#161d66" stroke="#181c40" stroke-width="0.9"/>
<circle cx="398.8" cy="789.1" r="3.75" fill="#161d66" stroke="#181c40" stroke-width="0.9"/>
<circle cx="401.3" cy="797.4" r="3.75" fill="#161d66" stroke="#181c40" stroke-width="0.9"/>
<circle cx="421.8" cy="784.5" r="3.75" fill="#161d66" stroke="#181c40" stroke-width="0.9"/>
<circle cx="421.8" cy="795" r="3.75" fill="#161d66" stroke="#181c40" stroke-width="0.9"/>
<circle cx="359" cy="803.7" r="3.75" fill="#161d66" stroke="#181c40" stroke-width="0.9"/>
<circle cx="368.9" cy="802.7" r="3.75" fill="#161d66" stroke="#181c40" stroke-width="0.9"/>
<circle cx="397.7" cy="804.5" r="3.75" fill="#161d66" stroke="#181c40" stroke-width="0.9"/>
<circle cx="421" cy="803" r="3.75" fill="#161d66" stroke="#181c40" stroke-width="0.9"/>
<circle cx="423.2" cy="805.9" r="3.75" fill="#161d66" stroke="#181c40" stroke-width="0.9"/>
<circle cx="426.1" cy="809.6" r="3.75" fill="#161d66" stroke="#181c40" stroke-width="0.9"/>
<circle cx="433.4" cy="809.6" r="3.75" fill="#161d66" stroke="#181c40" stroke-width="0.9"/>
<circle cx="436.4" cy="804.5" r="3.75" fill="#161d66" stroke="#181c40" stroke-width="0.9"/>
<circle cx="353.1" cy="816.9" r="3.75" fill="#161d66" stroke="#181c40" stroke-width="0.9"/>
<circle cx="380.1" cy="817.3" r="3.75" fill="#161d66" stroke="#181c40" stroke-width="0.9"/>
<circle cx="401.3" cy="812.5" r="3.75" fill="#161d66" stroke="#181c40" stroke-width="0.9"/>
<circle cx="402.8" cy="814.7" r="3.75" fill="#161d66" stroke="#181c40" stroke-width="0.9"/>
<circle cx="413" cy="813.5" r="3.75" fill="#161d66" stroke="#181c40" stroke-width="0.9"/>
<circle cx="421" cy="814.7" r="3.75" fill="#161d66" stroke="#181c40" stroke-width="0.9"/>
<circle cx="439.3" cy="814.7" r="3.75" fill="#161d66" stroke="#181c40" stroke-width="0.9"/>
<circle cx="348.8" cy="822.7" r="3.75" fill="#161d66" stroke="#181c40" stroke-width="0.9"/>
<circle cx="359" cy="822.7" r="3.75" fill="#161d66" stroke="#181c40" stroke-width="0.9"/>
<circle cx="364.1" cy="822.7" r="3.75" fill="#161d66" stroke="#181c40" stroke-width="0.9"/>
<circle cx="371.4" cy="822.7" r="3.75" fill="#161d66" stroke="#181c40" stroke-width="0.9"/>
<circle cx="386" cy="822.7" r="3.75" fill="#161d66" stroke="#181c40" stroke-width="0.9"/>
<circle cx="406.4" cy="823.4" r="3.75" fill="#161d66" stroke="#181c40" stroke-width="0.9"/>
<circle cx="499.2" cy="739.1" r="3.75" fill="#161d66" stroke="#181c40" stroke-width="0.9"/>
<circle cx="448.1" cy="755.1" r="3.75" fill="#161d66" stroke="#181c40" stroke-width="0.9"/>
<circle cx="464.5" cy="777" r="3.75" fill="#161d66" stroke="#181c40" stroke-width="0.9"/>
<circle cx="458.1" cy="784" r="3.75" fill="#161d66" stroke="#181c40" stroke-width="0.9"/>
<circle cx="459.5" cy="789.6" r="3.75" fill="#161d66" stroke="#181c40" stroke-width="0.9"/>
<circle cx="447.4" cy="792.5" r="3.75" fill="#161d66" stroke="#181c40" stroke-width="0.9"/>
<circle cx="488.3" cy="789.6" r="3.75" fill="#161d66" stroke="#181c40" stroke-width="0.9"/>
<circle cx="459.1" cy="797.9" r="3.75" fill="#161d66" stroke="#181c40" stroke-width="0.9"/>
<circle cx="464.9" cy="799.3" r="3.75" fill="#161d66" stroke="#181c40" stroke-width="0.9"/>
<circle cx="459.1" cy="804.5" r="3.75" fill="#161d66" stroke="#181c40" stroke-width="0.9"/>
<circle cx="462.7" cy="805.2" r="3.75" fill="#161d66" stroke="#181c40" stroke-width="0.9"/>
<circle cx="462" cy="808.8" r="3.75" fill="#161d66" stroke="#181c40" stroke-width="0.9"/>
<circle cx="437.2" cy="804.5" r="3.75" fill="#161d66" stroke="#181c40" stroke-width="0.9"/>
<circle cx="451.4" cy="809.1" r="3.75" fill="#161d66" stroke="#181c40" stroke-width="0.9"/>
<circle cx="440.8" cy="814.4" r="3.75" fill="#161d66" stroke="#181c40" stroke-width="0.9"/>
<circle cx="457.6" cy="815.8" r="3.75" fill="#161d66" stroke="#181c40" stroke-width="0.9"/>
<circle cx="485.4" cy="814.4" r="3.75" fill="#161d66" stroke="#181c40" stroke-width="0.9"/>
<circle cx="500.7" cy="810.3" r="3.75" fill="#161d66" stroke="#181c40" stroke-width="0.9"/>
<circle cx="502.9" cy="812.5" r="3.75" fill="#161d66" stroke="#181c40" stroke-width="0.9"/>
<circle cx="510.9" cy="811" r="3.75" fill="#161d66" stroke="#181c40" stroke-width="0.9"/>
<circle cx="514.6" cy="805.9" r="3.75" fill="#161d66" stroke="#181c40" stroke-width="0.9"/>
<circle cx="522.6" cy="807.4" r="3.75" fill="#161d66" stroke="#181c40" stroke-width="0.9"/>
<circle cx="527" cy="808.1" r="3.75" fill="#161d66" stroke="#181c40" stroke-width="0.9"/>
<circle cx="532.8" cy="808.1" r="3.75" fill="#161d66" stroke="#181c40" stroke-width="0.9"/>
<circle cx="534.3" cy="801.5" r="3.75" fill="#161d66" stroke="#181c40" stroke-width="0.9"/>
<circle cx="516.8" cy="819" r="3.75" fill="#161d66" stroke="#181c40" stroke-width="0.9"/>
<circle cx="530.6" cy="817.3" r="3.75" fill="#161d66" stroke="#181c40" stroke-width="0.9"/>
<circle cx="528.4" cy="822.7" r="3.75" fill="#161d66" stroke="#181c40" stroke-width="0.9"/>
<circle cx="500" cy="822.7" r="3.75" fill="#161d66" stroke="#181c40" stroke-width="0.9"/>
<circle cx="549.5" cy="745.1" r="3.75" fill="#161d66" stroke="#181c40" stroke-width="0.9"/>
<circle cx="565.7" cy="786.5" r="3.75" fill="#161d66" stroke="#181c40" stroke-width="0.9"/>
<circle cx="562.9" cy="791.3" r="3.75" fill="#161d66" stroke="#181c40" stroke-width="0.9"/>
<circle cx="568.5" cy="788.9" r="3.75" fill="#161d66" stroke="#181c40" stroke-width="0.9"/>
<circle cx="573.4" cy="787.3" r="3.75" fill="#161d66" stroke="#181c40" stroke-width="0.9"/>
<circle cx="575" cy="791.3" r="3.75" fill="#161d66" stroke="#181c40" stroke-width="0.9"/>
<circle cx="575.8" cy="794.5" r="3.75" fill="#161d66" stroke="#181c40" stroke-width="0.9"/>
<circle cx="567.3" cy="795.3" r="3.75" fill="#161d66" stroke="#181c40" stroke-width="0.9"/>
<circle cx="583" cy="790.5" r="3.75" fill="#161d66" stroke="#181c40" stroke-width="0.9"/>
<circle cx="587" cy="788.1" r="3.75" fill="#161d66" stroke="#181c40" stroke-width="0.9"/>
<circle cx="591.8" cy="786.5" r="3.75" fill="#161d66" stroke="#181c40" stroke-width="0.9"/>
<circle cx="595.8" cy="785.7" r="3.75" fill="#161d66" stroke="#181c40" stroke-width="0.9"/>
<circle cx="599.9" cy="780.1" r="3.75" fill="#161d66" stroke="#181c40" stroke-width="0.9"/>
<circle cx="600.7" cy="784.9" r="3.75" fill="#161d66" stroke="#181c40" stroke-width="0.9"/>
<circle cx="603.9" cy="788.1" r="3.75" fill="#161d66" stroke="#181c40" stroke-width="0.9"/>
<circle cx="607.9" cy="788.9" r="3.75" fill="#161d66" stroke="#181c40" stroke-width="0.9"/>
<circle cx="612.7" cy="788.9" r="3.75" fill="#161d66" stroke="#181c40" stroke-width="0.9"/>
<circle cx="622.3" cy="789.7" r="3.75" fill="#161d66" stroke="#181c40" stroke-width="0.9"/>
<circle cx="599.9" cy="796.1" r="3.75" fill="#161d66" stroke="#181c40" stroke-width="0.9"/>
<circle cx="561.3" cy="800.1" r="3.75" fill="#161d66" stroke="#181c40" stroke-width="0.9"/>
<circle cx="570.1" cy="800.1" r="3.75" fill="#161d66" stroke="#181c40" stroke-width="0.9"/>
<circle cx="573.4" cy="805.8" r="3.75" fill="#161d66" stroke="#181c40" stroke-width="0.9"/>
<circle cx="579" cy="805" r="3.75" fill="#161d66" stroke="#181c40" stroke-width="0.9"/>
<circle cx="568.5" cy="806.6" r="3.75" fill="#161d66" stroke="#181c40" stroke-width="0.9"/>
<circle cx="562.1" cy="807.4" r="3.75" fill="#161d66" stroke="#181c40" stroke-width="0.9"/>
<circle cx="579.8" cy="809.8" r="3.75" fill="#161d66" stroke="#181c40" stroke-width="0.9"/>
<circle cx="587.8" cy="801" r="3.75" fill="#161d66" stroke="#181c40" stroke-width="0.9"/>
<circle cx="589.4" cy="809.8" r="3.75" fill="#161d66" stroke="#181c40" stroke-width="0.9"/>
<circle cx="593.4" cy="807.4" r="3.75" fill="#161d66" stroke="#181c40" stroke-width="0.9"/>
<circle cx="599.1" cy="807.4" r="3.75" fill="#161d66" stroke="#181c40" stroke-width="0.9"/>
<circle cx="613.5" cy="809.8" r="3.75" fill="#161d66" stroke="#181c40" stroke-width="0.9"/>
<circle cx="613.5" cy="813" r="3.75" fill="#161d66" stroke="#181c40" stroke-width="0.9"/>
<circle cx="628" cy="805.8" r="3.75" fill="#161d66" stroke="#181c40" stroke-width="0.9"/>
<circle cx="629.6" cy="811.4" r="3.75" fill="#161d66" stroke="#181c40" stroke-width="0.9"/>
<circle cx="624.7" cy="814.6" r="3.75" fill="#161d66" stroke="#181c40" stroke-width="0.9"/>
<circle cx="583" cy="817" r="3.75" fill="#161d66" stroke="#181c40" stroke-width="0.9"/>
<circle cx="585.4" cy="817.5" r="3.75" fill="#161d66" stroke="#181c40" stroke-width="0.9"/>
<circle cx="600.7" cy="817" r="3.75" fill="#161d66" stroke="#181c40" stroke-width="0.9"/>
<circle cx="605.5" cy="819.4" r="3.75" fill="#161d66" stroke="#181c40" stroke-width="0.9"/>
<circle cx="608.7" cy="818.6" r="3.75" fill="#161d66" stroke="#181c40" stroke-width="0.9"/>
<circle cx="616.7" cy="817.8" r="3.75" fill="#161d66" stroke="#181c40" stroke-width="0.9"/>
<circle cx="631.2" cy="820.2" r="3.75" fill="#161d66" stroke="#181c40" stroke-width="0.9"/>
<circle cx="563.7" cy="821" r="3.75" fill="#161d66" stroke="#181c40" stroke-width="0.9"/>
<circle cx="576.6" cy="821" r="3.75" fill="#161d66" stroke="#181c40" stroke-width="0.9"/>
<circle cx="534.8" cy="802.6" r="3.75" fill="#161d66" stroke="#181c40" stroke-width="0.9"/>
<circle cx="543.7" cy="803" r="3.75" fill="#161d66" stroke="#181c40" stroke-width="0.9"/>
<circle cx="534" cy="808.2" r="3.75" fill="#161d66" stroke="#181c40" stroke-width="0.9"/>
<circle cx="544.5" cy="808.2" r="3.75" fill="#161d66" stroke="#181c40" stroke-width="0.9"/>
<circle cx="554.1" cy="809.8" r="3.75" fill="#161d66" stroke="#181c40" stroke-width="0.9"/>
<circle cx="558.1" cy="809.8" r="3.75" fill="#161d66" stroke="#181c40" stroke-width="0.9"/>
<circle cx="530.8" cy="817" r="3.75" fill="#161d66" stroke="#181c40" stroke-width="0.9"/>
<circle cx="539.6" cy="820.7" r="3.75" fill="#161d66" stroke="#181c40" stroke-width="0.9"/>
<circle cx="530.8" cy="823.4" r="3.75" fill="#161d66" stroke="#181c40" stroke-width="0.9"/>
<circle cx="408.4" cy="574.4" r="3.65" fill="#8ecbef" stroke="#27384a" stroke-width="1.1"/>
<circle cx="407.7" cy="576.2" r="3.65" fill="#8ecbef" stroke="#27384a" stroke-width="1.1"/>
<circle cx="404.4" cy="585.4" r="3.65" fill="#8ecbef" stroke="#27384a" stroke-width="1.1"/>
<circle cx="399" cy="608.4" r="3.65" fill="#8ecbef" stroke="#27384a" stroke-width="1.1"/>
<circle cx="367.9" cy="633.5" r="3.65" fill="#8ecbef" stroke="#27384a" stroke-width="1.1"/>
<circle cx="366.3" cy="635.7" r="3.65" fill="#8ecbef" stroke="#27384a" stroke-width="1.1"/>
<circle cx="432.5" cy="629.2" r="3.65" fill="#8ecbef" stroke="#27384a" stroke-width="1.1"/>
<circle cx="439.5" cy="630.9" r="3.65" fill="#8ecbef" stroke="#27384a" stroke-width="1.1"/>
<circle cx="392.4" cy="647.3" r="3.65" fill="#8ecbef" stroke="#27384a" stroke-width="1.1"/>
<circle cx="230.9" cy="648.2" r="3.65" fill="#8ecbef" stroke="#27384a" stroke-width="1.1"/>
<circle cx="202.8" cy="674.5" r="3.65" fill="#8ecbef" stroke="#27384a" stroke-width="1.1"/>
<circle cx="206.8" cy="676" r="3.65" fill="#8ecbef" stroke="#27384a" stroke-width="1.1"/>
<circle cx="242.9" cy="671.7" r="3.65" fill="#8ecbef" stroke="#27384a" stroke-width="1.1"/>
<circle cx="250.6" cy="681.5" r="3.65" fill="#8ecbef" stroke="#27384a" stroke-width="1.1"/>
<circle cx="253.4" cy="682" r="3.65" fill="#8ecbef" stroke="#27384a" stroke-width="1.1"/>
<circle cx="208.9" cy="717.7" r="3.65" fill="#8ecbef" stroke="#27384a" stroke-width="1.1"/>
<circle cx="208.9" cy="715" r="3.65" fill="#8ecbef" stroke="#27384a" stroke-width="1.1"/>
<circle cx="219.8" cy="723.8" r="3.65" fill="#8ecbef" stroke="#27384a" stroke-width="1.1"/>
<circle cx="246.2" cy="729.6" r="3.65" fill="#8ecbef" stroke="#27384a" stroke-width="1.1"/>
<circle cx="250.1" cy="727.3" r="3.65" fill="#8ecbef" stroke="#27384a" stroke-width="1.1"/>
<circle cx="253.9" cy="725.2" r="3.65" fill="#8ecbef" stroke="#27384a" stroke-width="1.1"/>
<circle cx="256.2" cy="745.2" r="3.65" fill="#8ecbef" stroke="#27384a" stroke-width="1.1"/>
<circle cx="369.9" cy="813.9" r="3.65" fill="#8ecbef" stroke="#27384a" stroke-width="1.1"/>
<circle cx="384.5" cy="814.4" r="3.65" fill="#8ecbef" stroke="#27384a" stroke-width="1.1"/>
<circle cx="354.6" cy="824.2" r="3.65" fill="#8ecbef" stroke="#27384a" stroke-width="1.1"/>
<circle cx="333.5" cy="646.7" r="3.65" fill="#5cb547" stroke="#2a4228" stroke-width="1.1"/>
<circle cx="314.8" cy="757" r="3.65" fill="#5cb547" stroke="#2a4228" stroke-width="1.1"/>
<circle cx="372.8" cy="811.5" r="3.65" fill="#5cb547" stroke="#2a4228" stroke-width="1.1"/>
<path d="M344.9,606.6 L349.5,611.2 L344.9,615.8 L340.3,611.2 Z" fill="#62399a" stroke="#2c1c48" stroke-width="0.9"/>
</g>
<line x1="55.5" y1="644.72" x2="635.2" y2="644.72" stroke="#e0585c" stroke-width="1.5"/>
<polyline points="55.5,822 89,821.9 92.3,815.9 101,815.6 106.9,813.8 122.6,813.3 123.7,821 153.6,820.8 158,815.1 177.7,814.8 198.2,815.8 212.1,815.3 217.4,822 407.7,822 431.1,813.7 444.2,801.7 549.3,801.7 549.9,811.7 554.1,811.6 556.5,805.2 558.9,806.8 560.8,808.4 561.3,819.7 576.6,821.3 579.8,823.7 623.1,823.2" fill="none" stroke="#f2b860" stroke-width="1.7" stroke-linejoin="round"/>
<text x="346" y="555.8" font-size="12" fill="#3d62a8" text-anchor="middle">rs7412</text>
<text x="346" y="568.3" font-size="12" fill="#3d62a8" text-anchor="middle">APOE</text>
<text x="344.9" y="590.8" font-size="12" fill="#3d62a8" text-anchor="middle">rs429358</text>
<text x="344.9" y="603.3" font-size="12" fill="#3d62a8" text-anchor="middle">APOE</text>
<text x="408.8" y="554.3" font-size="12" fill="#3d62a8" text-anchor="middle">rs4420638</text>
<text x="408.8" y="566.1" font-size="12" fill="#3d62a8" text-anchor="middle">CAD</text>
<text x="230.9" y="626.8" font-size="12" fill="#3d62a8" text-anchor="middle">rs6857</text>
<text x="230.9" y="639.3" font-size="12" fill="#3d62a8" text-anchor="middle">Alzheimers</text>
<rect x="580.3" y="542.1" width="49" height="116" fill="#fff" stroke="#6a6a6a" stroke-width="1"/>
<rect x="587.2" y="562.3" width="11.7" height="17.85" fill="#ee1c25"/>
<rect x="587.2" y="580.1" width="11.7" height="17.85" fill="#f6a21e"/>
<rect x="587.2" y="597.9" width="11.7" height="18.05" fill="#5db947"/>
<rect x="587.2" y="615.9" width="11.7" height="17.95" fill="#92cdef"/>
<rect x="587.2" y="633.8" width="11.7" height="18.05" fill="#0f1850"/>
<line x1="598.9" y1="580.1" x2="605" y2="580.1" stroke="#555" stroke-width="1"/>
<text x="608.8" y="584.3" font-size="10" fill="#505050">0.8</text>
<line x1="598.9" y1="597.9" x2="605" y2="597.9" stroke="#555" stroke-width="1"/>
<text x="608.8" y="602.1" font-size="10" fill="#505050">0.6</text>
<line x1="598.9" y1="615.9" x2="605" y2="615.9" stroke="#555" stroke-width="1"/>
<text x="608.8" y="620.1" font-size="10" fill="#505050">0.4</text>
<line x1="598.9" y1="633.8" x2="605" y2="633.8" stroke="#555" stroke-width="1"/>
<text x="608.8" y="638" font-size="10" fill="#505050">0.2</text>
<text x="600.3" y="558.1" font-size="12" fill="#505050">r</text>
<text x="604.5" y="552" font-size="8.2" fill="#505050">2</text>
<rect x="55.5" y="535.9" width="579.7" height="301.9" fill="none" stroke="#737373" stroke-width="1.2"/>
<line x1="55.5" y1="869.1" x2="232.6" y2="869.1" stroke="#3d4a92" stroke-width="1.7"/>
<rect x="93" y="866.9" width="2.8" height="4.4" fill="#101848"/>
<rect x="131.5" y="866.9" width="2.3" height="4.4" fill="#101848"/>
<rect x="142.4" y="866.9" width="1.6" height="4.4" fill="#101848"/>
<rect x="145.2" y="866.9" width="1.6" height="4.4" fill="#101848"/>
<rect x="168.2" y="866.9" width="4.7" height="4.4" fill="#101848"/>
<rect x="191" y="866.9" width="1.6" height="4.4" fill="#101848"/>
<rect x="212.9" y="866.9" width="1.6" height="4.4" fill="#101848"/>
<rect x="225.6" y="866.9" width="6.9" height="4.4" fill="#101848"/>
<text x="86.6" y="865.7" font-size="10.1" font-style="italic" fill="#222">PVRL2</text>
<line x1="119.8" y1="861.1" x2="127" y2="861.1" stroke="#2a2a2a" stroke-width="1.25"/>
<path d="M129.5,861.1 L124.9,859.1 L124.9,863.1 Z" fill="#2a2a2a"/>
<line x1="243.5" y1="869.1" x2="316.6" y2="869.1" stroke="#3d4a92" stroke-width="1.7"/>
<rect x="243.5" y="866.9" width="3.5" height="4.4" fill="#101848"/>
<rect x="248.8" y="866.9" width="1.6" height="4.4" fill="#101848"/>
<rect x="251.6" y="866.9" width="1.6" height="4.4" fill="#101848"/>
<rect x="257.8" y="866.9" width="3.2" height="4.4" fill="#101848"/>
<rect x="299.1" y="866.9" width="3.5" height="4.4" fill="#101848"/>
<rect x="312" y="866.9" width="4.6" height="4.4" fill="#101848"/>
<text x="255.2" y="865.3" font-size="10.1" font-style="italic" fill="#222">TOMM40</text>
<line x1="297.8" y1="860.9" x2="305.5" y2="860.9" stroke="#2a2a2a" stroke-width="1.25"/>
<path d="M308,860.9 L303.4,858.9 L303.4,862.9 Z" fill="#2a2a2a"/>
<line x1="328.1" y1="892.5" x2="349.4" y2="892.5" stroke="#3d4a92" stroke-width="1.7"/>
<rect x="327.7" y="890.3" width="1.6" height="4.4" fill="#101848"/>
<rect x="332.5" y="890.3" width="1.6" height="4.4" fill="#101848"/>
<rect x="338.9" y="890.3" width="1.6" height="4.4" fill="#101848"/>
<rect x="344.5" y="890.3" width="4.8" height="4.4" fill="#101848"/>
<text x="319.7" y="888" font-size="10.1" font-style="italic" fill="#222">APOE</text>
<line x1="348.5" y1="883.5" x2="357.4" y2="883.5" stroke="#2a2a2a" stroke-width="1.25"/>
<path d="M359.9,883.5 L355.3,881.5 L355.3,885.5 Z" fill="#2a2a2a"/>
<line x1="380.1" y1="869.1" x2="407.2" y2="869.1" stroke="#3d4a92" stroke-width="1.7"/>
<rect x="379.6" y="866.9" width="1.6" height="4.4" fill="#101848"/>
<rect x="388" y="866.9" width="1.6" height="4.4" fill="#101848"/>
<rect x="406.1" y="866.9" width="1.6" height="4.4" fill="#101848"/>
<text x="371.5" y="865.1" font-size="10.1" font-style="italic" fill="#222">APOC1</text>
<line x1="405.5" y1="860.6" x2="414.4" y2="860.6" stroke="#2a2a2a" stroke-width="1.25"/>
<path d="M416.9,860.6 L412.3,858.6 L412.3,862.6 Z" fill="#2a2a2a"/>
<line x1="449.9" y1="869" x2="477.2" y2="869" stroke="#3d4a92" stroke-width="1.7"/>
<rect x="449.9" y="866.8" width="6.1" height="4.4" fill="#101848"/>
<rect x="476" y="866.8" width="1.6" height="4.4" fill="#101848"/>
<text x="435.1" y="864.8" font-size="10.1" font-style="italic" fill="#222">APOC1P1</text>
<line x1="483" y1="860.4" x2="491.4" y2="860.4" stroke="#2a2a2a" stroke-width="1.25"/>
<path d="M493.9,860.4 L489.3,858.4 L489.3,862.4 Z" fill="#2a2a2a"/>
<line x1="539.5" y1="869" x2="558.7" y2="869" stroke="#3d4a92" stroke-width="1.7"/>
<rect x="539" y="866.8" width="1.6" height="4.4" fill="#101848"/>
<rect x="553.3" y="866.8" width="5.4" height="4.4" fill="#101848"/>
<text x="526.9" y="864.8" font-size="10.1" font-style="italic" fill="#222">APOC4</text>
<line x1="561.5" y1="860.4" x2="570" y2="860.4" stroke="#2a2a2a" stroke-width="1.25"/>
<path d="M572.5,860.4 L567.9,858.4 L567.9,862.4 Z" fill="#2a2a2a"/>
<line x1="539.5" y1="892.4" x2="582.2" y2="892.4" stroke="#3d4a92" stroke-width="1.7"/>
<rect x="539" y="890.2" width="1.6" height="4.4" fill="#101848"/>
<rect x="554.2" y="890.2" width="8.7" height="4.4" fill="#101848"/>
<rect x="575.1" y="890.2" width="7.1" height="4.4" fill="#101848"/>
<text x="518.9" y="888.3" font-size="10.1" font-style="italic" fill="#222">APOC4-APOC2</text>
<line x1="593.8" y1="883.9" x2="602" y2="883.9" stroke="#2a2a2a" stroke-width="1.25"/>
<path d="M604.5,883.9 L599.9,881.9 L599.9,885.9 Z" fill="#2a2a2a"/>
<line x1="561.3" y1="915.5" x2="582.2" y2="915.5" stroke="#3d4a92" stroke-width="1.7"/>
<rect x="560.8" y="913.3" width="1.6" height="4.4" fill="#101848"/>
<rect x="575.1" y="913.3" width="7.1" height="4.4" fill="#101848"/>
<text x="550" y="911.4" font-size="10.1" font-style="italic" fill="#222">APOC2</text>
<line x1="585" y1="907" x2="593.5" y2="907" stroke="#2a2a2a" stroke-width="1.25"/>
<path d="M596,907 L591.4,905 L591.4,909 Z" fill="#2a2a2a"/>
<line x1="611" y1="938.6" x2="634.5" y2="938.6" stroke="#3d4a92" stroke-width="1.7"/>
<rect x="611" y="936.4" width="5.5" height="4.4" fill="#101848"/>
<text x="582.2" y="934.8" font-size="10.1" font-style="italic" fill="#222">CLPTM1</text>
<line x1="622" y1="930.3" x2="630.1" y2="930.3" stroke="#2a2a2a" stroke-width="1.25"/>
<path d="M632.6,930.3 L628,928.3 L628,932.3 Z" fill="#2a2a2a"/>
<rect x="55.5" y="852.8" width="579" height="92.5" fill="none" stroke="#737373" stroke-width="1.2"/>
<line x1="159.4" y1="945.3" x2="159.4" y2="952.6" stroke="#737373" stroke-width="1"/>
<text x="159.4" y="971" font-size="11.8" fill="#4a4a4a" text-anchor="middle">45.38</text>
<line x1="275.38" y1="945.3" x2="275.38" y2="952.6" stroke="#737373" stroke-width="1"/>
<text x="275.38" y="971" font-size="11.8" fill="#4a4a4a" text-anchor="middle">45.4</text>
<line x1="391.36" y1="945.3" x2="391.36" y2="952.6" stroke="#737373" stroke-width="1"/>
<text x="391.36" y="971" font-size="11.8" fill="#4a4a4a" text-anchor="middle">45.42</text>
<line x1="507.34" y1="945.3" x2="507.34" y2="952.6" stroke="#737373" stroke-width="1"/>
<text x="507.34" y="971" font-size="11.8" fill="#4a4a4a" text-anchor="middle">45.44</text>
<line x1="623.32" y1="945.3" x2="623.32" y2="952.6" stroke="#737373" stroke-width="1"/>
<text x="623.32" y="971" font-size="11.8" fill="#4a4a4a" text-anchor="middle">45.46</text>
<text x="344.8" y="988.8" font-size="12" fill="#4a4a4a" text-anchor="middle">Position on chr19 (Mb)</text>
</svg>
</body></html>
